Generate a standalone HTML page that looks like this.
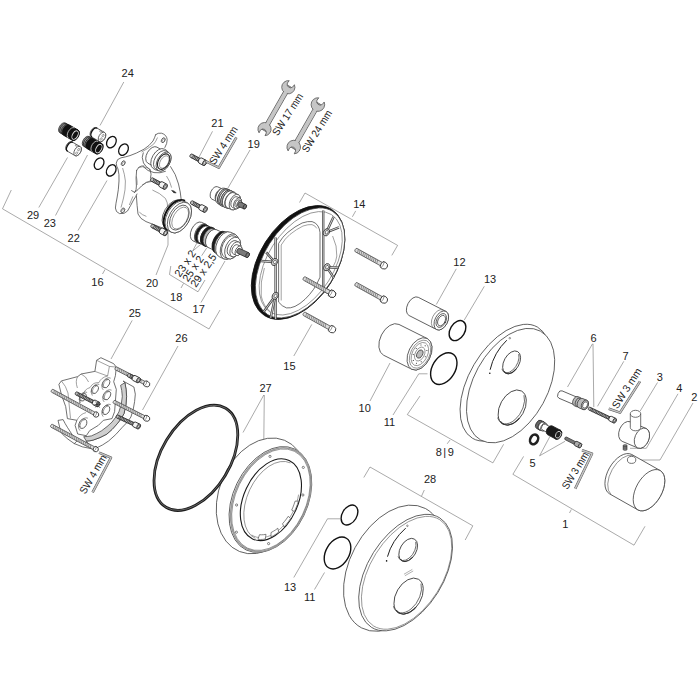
<!DOCTYPE html>
<html><head><meta charset="utf-8"><title>Exploded view</title>
<style>
html,body{margin:0;padding:0;background:#fff;}
body{width:700px;height:700px;overflow:hidden;}
svg{display:block;font-family:"Liberation Sans",sans-serif;}
</style></head><body>
<svg width="700" height="700" viewBox="0 0 700 700">
<rect width="700" height="700" fill="#fff"/>
<text x="121.6" y="77.2" font-size="11.0" text-anchor="start" fill="#222">24</text>
<text x="211.3" y="127.2" font-size="11.0" text-anchor="start" fill="#222">21</text>
<text x="247.60000000000002" y="148.2" font-size="11.0" text-anchor="start" fill="#222">19</text>
<text x="26.900000000000002" y="218.6" font-size="11.0" text-anchor="start" fill="#222">29</text>
<text x="43.699999999999996" y="226.6" font-size="11.0" text-anchor="start" fill="#222">23</text>
<text x="67.6" y="242.2" font-size="11.0" text-anchor="start" fill="#222">22</text>
<text x="91.3" y="285.8" font-size="11.0" text-anchor="start" fill="#222">16</text>
<text x="145.9" y="286.9" font-size="11.0" text-anchor="start" fill="#222">20</text>
<text x="170.10000000000002" y="300.6" font-size="11.0" text-anchor="start" fill="#222">18</text>
<text x="192.60000000000002" y="313.2" font-size="11.0" text-anchor="start" fill="#222">17</text>
<text x="353.2" y="208.3" font-size="11.0" text-anchor="start" fill="#222">14</text>
<text x="453.3" y="266.4" font-size="11.0" text-anchor="start" fill="#222">12</text>
<text x="483.90000000000003" y="283.2" font-size="11.0" text-anchor="start" fill="#222">13</text>
<text x="283.3" y="369.6" font-size="11.0" text-anchor="start" fill="#222">15</text>
<text x="128.70000000000002" y="316.8" font-size="11.0" text-anchor="start" fill="#222">25</text>
<text x="175.3" y="342.2" font-size="11.0" text-anchor="start" fill="#222">26</text>
<text x="259.5" y="391.8" font-size="11.0" text-anchor="start" fill="#222">27</text>
<text x="358.6" y="412.1" font-size="11.0" text-anchor="start" fill="#222">10</text>
<text x="383.8" y="426.4" font-size="11.0" text-anchor="start" fill="#222">11</text>
<text x="435.7" y="455.6" font-size="11.0" text-anchor="start" fill="#222" letter-spacing="1.5">8|9</text>
<text x="590.55" y="341.8" font-size="11.0" text-anchor="start" fill="#222">6</text>
<text x="622.55" y="360.2" font-size="11.0" text-anchor="start" fill="#222">7</text>
<text x="656.75" y="380.8" font-size="11.0" text-anchor="start" fill="#222">3</text>
<text x="676.35" y="392.2" font-size="11.0" text-anchor="start" fill="#222">4</text>
<text x="691.35" y="401.4" font-size="11.0" text-anchor="start" fill="#222">2</text>
<text x="529.55" y="466.8" font-size="11.0" text-anchor="start" fill="#222">5</text>
<text x="562.15" y="528.4" font-size="11.0" text-anchor="start" fill="#222">1</text>
<text x="423.90000000000003" y="482.6" font-size="11.0" text-anchor="start" fill="#222">28</text>
<text x="283.90000000000003" y="591.4" font-size="11.0" text-anchor="start" fill="#222">13</text>
<text x="303.90000000000003" y="601.4" font-size="11.0" text-anchor="start" fill="#222">11</text>
<text x="214.84" y="165.21" font-size="10.6" fill="#222" textLength="43.02" lengthAdjust="spacingAndGlyphs" transform="rotate(-57.25 214.84 165.21)">SW 4 mm</text>
<text x="277.77" y="136.47" font-size="10.6" fill="#222" textLength="47.77" lengthAdjust="spacingAndGlyphs" transform="rotate(-57.29 277.77 136.47)">SW 17 mm</text>
<text x="307.46" y="153.13" font-size="10.6" fill="#222" textLength="47.33" lengthAdjust="spacingAndGlyphs" transform="rotate(-58.13 307.46 153.13)">SW 24 mm</text>
<text x="180.05" y="277.65" font-size="10.8" fill="#222" textLength="29.29" lengthAdjust="spacingAndGlyphs" transform="rotate(-56.00 180.05 277.65)">23 x 2</text>
<text x="188.08" y="282.61" font-size="10.8" fill="#222" textLength="28.78" lengthAdjust="spacingAndGlyphs" transform="rotate(-56.00 188.08 282.61)">25 x 2</text>
<text x="196.08" y="288.11" font-size="10.8" fill="#222" textLength="37.64" lengthAdjust="spacingAndGlyphs" transform="rotate(-56.00 196.08 288.11)">29 x 2,5</text>
<text x="617.56" y="409.37" font-size="10.6" fill="#222" textLength="45.63" lengthAdjust="spacingAndGlyphs" transform="rotate(-57.50 617.56 409.37)">SW 3 mm</text>
<text x="567.51" y="490.08" font-size="10.6" fill="#222" textLength="41.38" lengthAdjust="spacingAndGlyphs" transform="rotate(-58.50 567.51 490.08)">SW 3 mm</text>
<text x="85.36" y="494.86" font-size="10.6" fill="#222" textLength="43.27" lengthAdjust="spacingAndGlyphs" transform="rotate(-60.00 85.36 494.86)">SW 4 mm</text>
<path d="M123.8,82 L100,125.5" fill="none" stroke="#707070" stroke-width="0.6"/>
<path d="M212.5,131.3 L198.8,157.5" fill="none" stroke="#707070" stroke-width="0.6"/>
<path d="M250,150 L227.5,188.8" fill="none" stroke="#707070" stroke-width="0.6"/>
<path d="M38.8,207.5 L67.5,157.5" fill="none" stroke="#707070" stroke-width="0.6"/>
<path d="M55.5,215.5 L87.5,155" fill="none" stroke="#707070" stroke-width="0.6"/>
<path d="M78,230.5 L107,180.5" fill="none" stroke="#707070" stroke-width="0.6"/>
<path d="M11.3,190 L2.5,208.8 L209,329 L220,310" fill="none" stroke="#707070" stroke-width="0.6"/>
<path d="M105,269.5 L102.5,274" fill="none" stroke="#707070" stroke-width="0.6"/>
<path d="M225,261 L201,302.5" fill="none" stroke="#707070" stroke-width="0.6"/>
<path d="M170.8,266 L169.5,274.5 L198,291.8 L205,280" fill="none" stroke="#707070" stroke-width="0.6"/>
<path d="M183.5,283.5 L181,288" fill="none" stroke="#707070" stroke-width="0.6"/>
<path d="M299.5,202.5 L305,193 L397.6,245.4 L391.8,255.4" fill="none" stroke="#707070" stroke-width="0.6"/>
<path d="M355.7,210.9 L352.4,216.8" fill="none" stroke="#707070" stroke-width="0.6"/>
<path d="M311.8,324.4 L293.8,356" fill="none" stroke="#707070" stroke-width="0.6"/>
<path d="M132.2,320.4 L111,359" fill="none" stroke="#707070" stroke-width="0.6"/>
<path d="M178,346 L142.5,410" fill="none" stroke="#707070" stroke-width="0.6"/>
<path d="M263.8,395 L243,432.5" fill="none" stroke="#707070" stroke-width="0.6"/>
<path d="M264.3,395 L263.8,440.5" fill="none" stroke="#707070" stroke-width="0.6"/>
<path d="M456.3,268.8 L436.3,304.5" fill="none" stroke="#707070" stroke-width="0.6"/>
<path d="M484.3,286.3 L464.3,320" fill="none" stroke="#707070" stroke-width="0.6"/>
<path d="M370,401 L390,363" fill="none" stroke="#707070" stroke-width="0.6"/>
<path d="M393,415 L418.8,373.8 L427.5,373.8" fill="none" stroke="#707070" stroke-width="0.6"/>
<path d="M420,396 L407.3,414.6 L492.9,462.9 L503.6,444.3" fill="none" stroke="#707070" stroke-width="0.6"/>
<path d="M450,440 L447.2,443.8" fill="none" stroke="#707070" stroke-width="0.6"/>
<path d="M592.5,343.8 L567.5,387" fill="none" stroke="#707070" stroke-width="0.6"/>
<path d="M593,343.8 L593.8,407" fill="none" stroke="#707070" stroke-width="0.6"/>
<path d="M623.8,361.3 L597.5,406.3" fill="none" stroke="#707070" stroke-width="0.6"/>
<path d="M657.5,382.5 L640,411.3" fill="none" stroke="#707070" stroke-width="0.6"/>
<path d="M678,393.8 L646.3,448.3 L630,448.3" fill="none" stroke="#707070" stroke-width="0.6"/>
<path d="M693,403 L660,460 L636.3,460" fill="none" stroke="#707070" stroke-width="0.6"/>
<path d="M539.6,455.8 L550,436.3" fill="none" stroke="#707070" stroke-width="0.6"/>
<path d="M539.6,455.8 L565,441.3" fill="none" stroke="#707070" stroke-width="0.6"/>
<path d="M523.6,456.4 L512.9,474.3 L634,545.2 L645,526.3" fill="none" stroke="#707070" stroke-width="0.6"/>
<path d="M571.3,509.5 L569.5,513" fill="none" stroke="#707070" stroke-width="0.6"/>
<path d="M363.8,477.5 L370,467 L472.8,525.8 L465.2,540" fill="none" stroke="#707070" stroke-width="0.6"/>
<path d="M424.3,490 L421.5,496.2" fill="none" stroke="#707070" stroke-width="0.6"/>
<path d="M293.8,577.5 L327.5,518.8 L340,518.8" fill="none" stroke="#707070" stroke-width="0.6"/>
<path d="M314.5,589.5 L324.5,572.5" fill="none" stroke="#707070" stroke-width="0.6"/>
<path d="M156,275 L168,245 L168,232.5" fill="none" stroke="#707070" stroke-width="0.6"/>
<ellipse cx="111.4" cy="142.1" rx="4.4" ry="6.1" transform="rotate(30 111.4 142.1)" fill="none" stroke="#111" stroke-width="1.3"/>
<ellipse cx="123.5" cy="149.6" rx="4.4" ry="6.1" transform="rotate(30 123.5 149.6)" fill="none" stroke="#111" stroke-width="1.3"/>
<ellipse cx="99.1" cy="163.7" rx="4.4" ry="6.1" transform="rotate(30 99.1 163.7)" fill="none" stroke="#111" stroke-width="1.3"/>
<ellipse cx="111.2" cy="170.4" rx="4.4" ry="6.1" transform="rotate(30 111.2 170.4)" fill="none" stroke="#111" stroke-width="1.3"/>
<ellipse cx="457.5" cy="330.6" rx="7.3" ry="10.8" transform="rotate(31 457.5 330.6)" fill="none" stroke="#111" stroke-width="1.4"/>
<ellipse cx="443.8" cy="368.6" rx="11.4" ry="17.2" transform="rotate(31 443.8 368.6)" fill="none" stroke="#111" stroke-width="1.4"/>
<ellipse cx="349.5" cy="515" rx="7.3" ry="10.8" transform="rotate(31 349.5 515)" fill="none" stroke="#111" stroke-width="1.4"/>
<ellipse cx="337.5" cy="553" rx="11.6" ry="17.2" transform="rotate(31 337.5 553)" fill="none" stroke="#111" stroke-width="1.4"/>
<g transform="translate(75.1 135.1) rotate(30)" >
<path d="M-14.4,-5.6 L-10,-5.6 A3.36,5.6 0 0 1 -10,5.6 L-14.4,5.6 A3.36,5.6 0 0 1 -14.4,-5.6 Z" fill="#9a9a9a" stroke="#222" stroke-width="0.7"/>
<path d="M-13,-5.6 A3.4,5.6 0 0 0 -13,5.6" fill="none" stroke="#222" stroke-width="0.8"/>
<path d="M-11.4,-5.6 A3.4,5.6 0 0 0 -11.4,5.6" fill="none" stroke="#222" stroke-width="0.8"/>
<path d="M-10,-5.9 L0,-5.9 A3.54,5.9 0 0 1 0,5.9 L-10,5.9 A3.54,5.9 0 0 1 -10,-5.9 Z" fill="#111" stroke="#111" stroke-width="0.8"/>
<path d="M-4.2,-5.9 A3.5,5.9 0 0 0 -4.2,5.9" fill="none" stroke="#ddd" stroke-width="0.7"/>
<ellipse cx="0" cy="0" rx="3.5" ry="5.9" fill="#111" stroke="#111" stroke-width="0.8"/>
<ellipse cx="0" cy="0" rx="2.6" ry="4.6" fill="#111" stroke="#ddd" stroke-width="0.9"/>
</g>
<g transform="translate(77.6 151.1) rotate(30)" >
<path d="M-9.5,-5.2 L0,-5.2 A3.12,5.2 0 0 1 0,5.2 L-9.5,5.2 A3.12,5.2 0 0 1 -9.5,-5.2 Z" fill="#fff" stroke="#424242" stroke-width="0.75" stroke-linejoin="round"/>
<path d="M-8.5,-5.2 A3.1,5.2 0 0 0 -8.5,5.2" fill="none" stroke="#111" stroke-width="1.4"/>
<ellipse cx="0" cy="0" rx="3.1" ry="5.2" fill="#fff" stroke="#424242" stroke-width="0.75" stroke-linejoin="round"/>
<ellipse cx="0.2" cy="-1.8" rx="0.9" ry="1.3" fill="none" stroke="#626262" stroke-width="0.6"/>
<ellipse cx="0.2" cy="2.2" rx="0.9" ry="1.3" fill="none" stroke="#626262" stroke-width="0.6"/>
<ellipse cx="-4" cy="-4.2" rx="1.0" ry="0.7" fill="none" stroke="#626262" stroke-width="0.6"/>
</g>
<g transform="translate(102 137) rotate(30)" >
<path d="M-9.5,-5.2 L0,-5.2 A3.12,5.2 0 0 1 0,5.2 L-9.5,5.2 A3.12,5.2 0 0 1 -9.5,-5.2 Z" fill="#fff" stroke="#424242" stroke-width="0.75" stroke-linejoin="round"/>
<path d="M-8.5,-5.2 A3.1,5.2 0 0 0 -8.5,5.2" fill="none" stroke="#111" stroke-width="1.4"/>
<ellipse cx="0" cy="0" rx="3.1" ry="5.2" fill="#fff" stroke="#424242" stroke-width="0.75" stroke-linejoin="round"/>
<ellipse cx="0.2" cy="-1.8" rx="0.9" ry="1.3" fill="none" stroke="#626262" stroke-width="0.6"/>
<ellipse cx="0.2" cy="2.2" rx="0.9" ry="1.3" fill="none" stroke="#626262" stroke-width="0.6"/>
<ellipse cx="-4" cy="-4.2" rx="1.0" ry="0.7" fill="none" stroke="#626262" stroke-width="0.6"/>
</g>
<g transform="translate(98.8 148.6) rotate(30)" >
<path d="M-14.4,-5.6 L-10,-5.6 A3.36,5.6 0 0 1 -10,5.6 L-14.4,5.6 A3.36,5.6 0 0 1 -14.4,-5.6 Z" fill="#9a9a9a" stroke="#222" stroke-width="0.7"/>
<path d="M-13,-5.6 A3.4,5.6 0 0 0 -13,5.6" fill="none" stroke="#222" stroke-width="0.8"/>
<path d="M-11.4,-5.6 A3.4,5.6 0 0 0 -11.4,5.6" fill="none" stroke="#222" stroke-width="0.8"/>
<path d="M-10,-5.9 L0,-5.9 A3.54,5.9 0 0 1 0,5.9 L-10,5.9 A3.54,5.9 0 0 1 -10,-5.9 Z" fill="#111" stroke="#111" stroke-width="0.8"/>
<path d="M-4.2,-5.9 A3.5,5.9 0 0 0 -4.2,5.9" fill="none" stroke="#ddd" stroke-width="0.7"/>
<ellipse cx="0" cy="0" rx="3.5" ry="5.9" fill="#111" stroke="#111" stroke-width="0.8"/>
<ellipse cx="0" cy="0" rx="2.6" ry="4.6" fill="#111" stroke="#ddd" stroke-width="0.9"/>
</g>
<path d="M155.7,134.6 Q158,132.6 161.5,133.2 Q166.5,134.6 167.2,139.5 Q167.3,143.5 164.9,147.5 M155.7,134.6 Q154.6,138 153,141 Q149.5,145.8 144,149.2 Q136,153.6 130,155.6 Q125,157.2 121,157.8 Q116.6,158.8 116.2,163.2 Q116.4,166.4 118,169 Q119.4,174 119,181 Q118.6,190 117,198 Q115.8,203.5 115.4,208 Q115.6,212.2 119.5,213.6 Q124.5,214.4 127.5,211 Q131,205 133.5,200 Q136,196.5 137,194" fill="none" stroke="#424242" stroke-width="0.75" stroke-linejoin="round" stroke-linecap="round"/>
<path d="M122.6,168 Q124.6,174 125.4,181 Q125.6,190 123.5,198 Q122,204 121,207.5" fill="none" stroke="#626262" stroke-width="0.6"/>
<path d="M157.5,137.5 Q156,141.5 153.6,144.2 Q148,148.8 141.5,152" fill="none" stroke="#626262" stroke-width="0.6"/>
<ellipse cx="163.2" cy="140.2" rx="1.7" ry="2.6" transform="rotate(30 163.2 140.2)" fill="#fff" stroke="#424242" stroke-width="0.75" stroke-linejoin="round"/>
<ellipse cx="163.6" cy="140.39999999999998" rx="1.1" ry="2.0" transform="rotate(30 163.2 140.2)" fill="none" stroke="#626262" stroke-width="0.6"/>
<ellipse cx="123.2" cy="163.2" rx="1.7" ry="2.6" transform="rotate(30 123.2 163.2)" fill="#fff" stroke="#424242" stroke-width="0.75" stroke-linejoin="round"/>
<ellipse cx="123.60000000000001" cy="163.39999999999998" rx="1.1" ry="2.0" transform="rotate(30 123.2 163.2)" fill="none" stroke="#626262" stroke-width="0.6"/>
<ellipse cx="122.8" cy="210.4" rx="1.7" ry="2.6" transform="rotate(30 122.8 210.4)" fill="#fff" stroke="#424242" stroke-width="0.75" stroke-linejoin="round"/>
<ellipse cx="123.2" cy="210.6" rx="1.1" ry="2.0" transform="rotate(30 122.8 210.4)" fill="none" stroke="#626262" stroke-width="0.6"/>
<path d="M143.2,152.8 Q141,157 143.5,163 Q146,167.5 150,169.5 M136.6,170.5 Q139,165 144,166 M136.6,170.5 Q135.6,178 136.4,186 Q136.6,190 134.6,192.4 L131.6,190.6 M134.6,192.4 Q138.5,189.6 141.5,186 Q146,181 151.5,181.4 M136.4,196 Q137,206 138,214 Q140,219 146,221.6 L165,229 M170.6,166.6 Q176,174 178.5,184 Q180.6,192 181.2,199.5 M150,169.5 Q152,174.5 150.6,178 M143.6,167 Q147.5,171.4 154,172.6 Q160,173.6 165.4,171.4" fill="none" stroke="#424242" stroke-width="0.75" stroke-linejoin="round" stroke-linecap="round"/>
<path d="M137.9,167.9 Q142,165.6 147.9,167.9 Q150.6,170 150.7,172.1 M136.4,176.4 Q137.4,181 137.1,185 M142.1,185 Q146,182.4 150.7,180.7 M139.3,212.1 Q142,215 146.4,216.4 M166.5,176 Q170,181 171.6,187.6 M129.3,205 Q131.4,200 132.9,196.4 M152.4,190 Q160,193 165.4,198.4 Q168,203 167.6,207" fill="none" stroke="#626262" stroke-width="0.6"/>
<path d="M171.6,190.4 Q174.6,190.2 176.2,193 Q173.6,193.6 171.6,190.4 Z" fill="#333" stroke="#333" stroke-width="0.6"/>
<g transform="translate(163.6 161.6) rotate(30)" >
<path d="M-13,-9.2 L-5.5,-9.2 A5.52,9.2 0 0 1 -5.5,9.2 L-13,9.2 A5.52,9.2 0 0 1 -13,-9.2 Z" fill="#fff" stroke="#424242" stroke-width="0.75" stroke-linejoin="round"/>
<path d="M-5.5,-11.2 L-3,-11.2 A6.72,11.2 0 0 1 -3,11.2 L-5.5,11.2 A6.72,11.2 0 0 1 -5.5,-11.2 Z" fill="#fff" stroke="#424242" stroke-width="0.75" stroke-linejoin="round"/>
<path d="M-3,-10.4 L0,-10.4 A6.24,10.4 0 0 1 0,10.4 L-3,10.4 A6.24,10.4 0 0 1 -3,-10.4 Z" fill="#fff" stroke="#424242" stroke-width="0.75" stroke-linejoin="round"/>
<ellipse cx="0" cy="0" rx="6.24" ry="10.4" fill="#fff" stroke="#424242" stroke-width="0.75" stroke-linejoin="round"/>
<ellipse cx="0" cy="0" rx="5.2" ry="8.4" fill="#fff" stroke="#222" stroke-width="1.1"/>
<ellipse cx="0.8" cy="0" rx="4.0" ry="6.8" fill="none" stroke="#626262" stroke-width="0.6"/>
</g>
<g transform="translate(179.4 217.6) rotate(30)" >
<path d="M-7,-15.6 L-3.6,-15.6 A9.36,15.6 0 0 1 -3.6,15.6 L-7,15.6 A9.36,15.6 0 0 1 -7,-15.6 Z" fill="#fff" stroke="#424242" stroke-width="0.75" stroke-linejoin="round"/>
<path d="M-3.5,-17.2 A10.8,17.2 0 0 0 -3.5,17.2" fill="none" stroke="#111" stroke-width="2.0"/>
<path d="M-2.6,-16.8 L0,-16.8 A10.08,16.8 0 0 1 0,16.8 L-2.6,16.8 A10.08,16.8 0 0 1 -2.6,-16.8 Z" fill="#fff" stroke="#424242" stroke-width="0.75" stroke-linejoin="round"/>
<ellipse cx="0" cy="0" rx="10.08" ry="16.8" fill="#fff" stroke="#424242" stroke-width="0.75" stroke-linejoin="round"/>
<ellipse cx="0" cy="0" rx="8.2" ry="13.6" fill="none" stroke="#424242" stroke-width="0.75" stroke-linejoin="round" stroke-linecap="round"/>
<ellipse cx="0.9" cy="0" rx="6.8" ry="12" fill="none" stroke="#626262" stroke-width="0.6"/>
</g>
<g transform="translate(204.6 162.8) rotate(28)" >
<path d="M-15.3,-1.8 L-4.8,-1.8 A1.08,1.8 0 0 1 -4.8,1.8 L-15.3,1.8 A1.08,1.8 0 0 1 -15.3,-1.8 Z" fill="#bdbdbd" stroke="#2a2a2a" stroke-width="0.7"/>
<path d="M-14.1,-1.8 A0.9,1.8 0 0 1 -14.1,1.8" fill="none" stroke="#222" stroke-width="0.7"/>
<path d="M-12.5,-1.8 A0.9,1.8 0 0 1 -12.5,1.8" fill="none" stroke="#222" stroke-width="0.7"/>
<path d="M-10.9,-1.8 A0.9,1.8 0 0 1 -10.9,1.8" fill="none" stroke="#222" stroke-width="0.7"/>
<path d="M-9.3,-1.8 A0.9,1.8 0 0 1 -9.3,1.8" fill="none" stroke="#222" stroke-width="0.7"/>
<path d="M-7.7,-1.8 A0.9,1.8 0 0 1 -7.7,1.8" fill="none" stroke="#222" stroke-width="0.7"/>
<path d="M-6.1,-1.8 A0.9,1.8 0 0 1 -6.1,1.8" fill="none" stroke="#222" stroke-width="0.7"/>
<path d="M-4.8,-2.9 L0,-2.9 A1.74,2.9 0 0 1 0,2.9 L-4.8,2.9 A1.74,2.9 0 0 1 -4.8,-2.9 Z" fill="#f4f4f4" stroke="#222" stroke-width="0.8"/>
<ellipse cx="0" cy="0" rx="1.74" ry="2.9" fill="#f4f4f4" stroke="#222" stroke-width="0.8"/>
<ellipse cx="0" cy="0" rx="1.044" ry="1.74" fill="#ddd" stroke="#333" stroke-width="0.6"/>
</g>
<g transform="translate(165.2 186.6) rotate(28)" >
<path d="M-15.3,-1.8 L-4.8,-1.8 A1.08,1.8 0 0 1 -4.8,1.8 L-15.3,1.8 A1.08,1.8 0 0 1 -15.3,-1.8 Z" fill="#bdbdbd" stroke="#2a2a2a" stroke-width="0.7"/>
<path d="M-14.1,-1.8 A0.9,1.8 0 0 1 -14.1,1.8" fill="none" stroke="#222" stroke-width="0.7"/>
<path d="M-12.5,-1.8 A0.9,1.8 0 0 1 -12.5,1.8" fill="none" stroke="#222" stroke-width="0.7"/>
<path d="M-10.9,-1.8 A0.9,1.8 0 0 1 -10.9,1.8" fill="none" stroke="#222" stroke-width="0.7"/>
<path d="M-9.3,-1.8 A0.9,1.8 0 0 1 -9.3,1.8" fill="none" stroke="#222" stroke-width="0.7"/>
<path d="M-7.7,-1.8 A0.9,1.8 0 0 1 -7.7,1.8" fill="none" stroke="#222" stroke-width="0.7"/>
<path d="M-6.1,-1.8 A0.9,1.8 0 0 1 -6.1,1.8" fill="none" stroke="#222" stroke-width="0.7"/>
<path d="M-4.8,-2.9 L0,-2.9 A1.74,2.9 0 0 1 0,2.9 L-4.8,2.9 A1.74,2.9 0 0 1 -4.8,-2.9 Z" fill="#f4f4f4" stroke="#222" stroke-width="0.8"/>
<ellipse cx="0" cy="0" rx="1.74" ry="2.9" fill="#f4f4f4" stroke="#222" stroke-width="0.8"/>
<ellipse cx="0" cy="0" rx="1.044" ry="1.74" fill="#ddd" stroke="#333" stroke-width="0.6"/>
</g>
<g transform="translate(205.2 209.6) rotate(28)" >
<path d="M-15.3,-1.8 L-4.8,-1.8 A1.08,1.8 0 0 1 -4.8,1.8 L-15.3,1.8 A1.08,1.8 0 0 1 -15.3,-1.8 Z" fill="#bdbdbd" stroke="#2a2a2a" stroke-width="0.7"/>
<path d="M-14.1,-1.8 A0.9,1.8 0 0 1 -14.1,1.8" fill="none" stroke="#222" stroke-width="0.7"/>
<path d="M-12.5,-1.8 A0.9,1.8 0 0 1 -12.5,1.8" fill="none" stroke="#222" stroke-width="0.7"/>
<path d="M-10.9,-1.8 A0.9,1.8 0 0 1 -10.9,1.8" fill="none" stroke="#222" stroke-width="0.7"/>
<path d="M-9.3,-1.8 A0.9,1.8 0 0 1 -9.3,1.8" fill="none" stroke="#222" stroke-width="0.7"/>
<path d="M-7.7,-1.8 A0.9,1.8 0 0 1 -7.7,1.8" fill="none" stroke="#222" stroke-width="0.7"/>
<path d="M-6.1,-1.8 A0.9,1.8 0 0 1 -6.1,1.8" fill="none" stroke="#222" stroke-width="0.7"/>
<path d="M-4.8,-2.9 L0,-2.9 A1.74,2.9 0 0 1 0,2.9 L-4.8,2.9 A1.74,2.9 0 0 1 -4.8,-2.9 Z" fill="#f4f4f4" stroke="#222" stroke-width="0.8"/>
<ellipse cx="0" cy="0" rx="1.74" ry="2.9" fill="#f4f4f4" stroke="#222" stroke-width="0.8"/>
<ellipse cx="0" cy="0" rx="1.044" ry="1.74" fill="#ddd" stroke="#333" stroke-width="0.6"/>
</g>
<g transform="translate(165.6 233) rotate(28)" >
<path d="M-15.3,-1.8 L-4.8,-1.8 A1.08,1.8 0 0 1 -4.8,1.8 L-15.3,1.8 A1.08,1.8 0 0 1 -15.3,-1.8 Z" fill="#bdbdbd" stroke="#2a2a2a" stroke-width="0.7"/>
<path d="M-14.1,-1.8 A0.9,1.8 0 0 1 -14.1,1.8" fill="none" stroke="#222" stroke-width="0.7"/>
<path d="M-12.5,-1.8 A0.9,1.8 0 0 1 -12.5,1.8" fill="none" stroke="#222" stroke-width="0.7"/>
<path d="M-10.9,-1.8 A0.9,1.8 0 0 1 -10.9,1.8" fill="none" stroke="#222" stroke-width="0.7"/>
<path d="M-9.3,-1.8 A0.9,1.8 0 0 1 -9.3,1.8" fill="none" stroke="#222" stroke-width="0.7"/>
<path d="M-7.7,-1.8 A0.9,1.8 0 0 1 -7.7,1.8" fill="none" stroke="#222" stroke-width="0.7"/>
<path d="M-6.1,-1.8 A0.9,1.8 0 0 1 -6.1,1.8" fill="none" stroke="#222" stroke-width="0.7"/>
<path d="M-4.8,-2.9 L0,-2.9 A1.74,2.9 0 0 1 0,2.9 L-4.8,2.9 A1.74,2.9 0 0 1 -4.8,-2.9 Z" fill="#f4f4f4" stroke="#222" stroke-width="0.8"/>
<ellipse cx="0" cy="0" rx="1.74" ry="2.9" fill="#f4f4f4" stroke="#222" stroke-width="0.8"/>
<ellipse cx="0" cy="0" rx="1.044" ry="1.74" fill="#ddd" stroke="#333" stroke-width="0.6"/>
</g>
<g transform="translate(386.6 267) rotate(29)" >
<path d="M-34.8,-1.9 L-4.8,-1.9 A1.14,1.9 0 0 1 -4.8,1.9 L-34.8,1.9 A1.14,1.9 0 0 1 -34.8,-1.9 Z" fill="#dcdcdc" stroke="#3a3a3a" stroke-width="0.65"/>
<path d="M-33.3,-1.9 L-32.2,1.9" fill="none" stroke="#5a5a5a" stroke-width="0.55"/>
<path d="M-31.3,-1.9 L-30.2,1.9" fill="none" stroke="#5a5a5a" stroke-width="0.55"/>
<path d="M-29.3,-1.9 L-28.2,1.9" fill="none" stroke="#5a5a5a" stroke-width="0.55"/>
<path d="M-27.3,-1.9 L-26.2,1.9" fill="none" stroke="#5a5a5a" stroke-width="0.55"/>
<path d="M-25.3,-1.9 L-24.2,1.9" fill="none" stroke="#5a5a5a" stroke-width="0.55"/>
<path d="M-23.3,-1.9 L-22.2,1.9" fill="none" stroke="#5a5a5a" stroke-width="0.55"/>
<path d="M-21.3,-1.9 L-20.2,1.9" fill="none" stroke="#5a5a5a" stroke-width="0.55"/>
<path d="M-19.3,-1.9 L-18.2,1.9" fill="none" stroke="#5a5a5a" stroke-width="0.55"/>
<path d="M-17.3,-1.9 L-16.2,1.9" fill="none" stroke="#5a5a5a" stroke-width="0.55"/>
<path d="M-15.3,-1.9 L-14.2,1.9" fill="none" stroke="#5a5a5a" stroke-width="0.55"/>
<path d="M-13.3,-1.9 L-12.2,1.9" fill="none" stroke="#5a5a5a" stroke-width="0.55"/>
<path d="M-11.3,-1.9 L-10.2,1.9" fill="none" stroke="#5a5a5a" stroke-width="0.55"/>
<path d="M-5.8,-3.0 Q-2.9,-4.4 -0.3,-2.48 Q1.7,0 -0.3,2.48 Q-2.9,4.4 -5.8,3.0 Q-7.0,0 -5.8,-3.0 Z" fill="#fff" stroke="#2a2a2a" stroke-width="0.8"/>
<path d="M-4.6,-3.6 Q-3.1999999999999997,0 -4.6,3.6" fill="none" stroke="#626262" stroke-width="0.6"/>
</g>
<g transform="translate(386.6 301.2) rotate(29)" >
<path d="M-34.8,-1.9 L-4.8,-1.9 A1.14,1.9 0 0 1 -4.8,1.9 L-34.8,1.9 A1.14,1.9 0 0 1 -34.8,-1.9 Z" fill="#dcdcdc" stroke="#3a3a3a" stroke-width="0.65"/>
<path d="M-33.3,-1.9 L-32.2,1.9" fill="none" stroke="#5a5a5a" stroke-width="0.55"/>
<path d="M-31.3,-1.9 L-30.2,1.9" fill="none" stroke="#5a5a5a" stroke-width="0.55"/>
<path d="M-29.3,-1.9 L-28.2,1.9" fill="none" stroke="#5a5a5a" stroke-width="0.55"/>
<path d="M-27.3,-1.9 L-26.2,1.9" fill="none" stroke="#5a5a5a" stroke-width="0.55"/>
<path d="M-25.3,-1.9 L-24.2,1.9" fill="none" stroke="#5a5a5a" stroke-width="0.55"/>
<path d="M-23.3,-1.9 L-22.2,1.9" fill="none" stroke="#5a5a5a" stroke-width="0.55"/>
<path d="M-21.3,-1.9 L-20.2,1.9" fill="none" stroke="#5a5a5a" stroke-width="0.55"/>
<path d="M-19.3,-1.9 L-18.2,1.9" fill="none" stroke="#5a5a5a" stroke-width="0.55"/>
<path d="M-17.3,-1.9 L-16.2,1.9" fill="none" stroke="#5a5a5a" stroke-width="0.55"/>
<path d="M-15.3,-1.9 L-14.2,1.9" fill="none" stroke="#5a5a5a" stroke-width="0.55"/>
<path d="M-13.3,-1.9 L-12.2,1.9" fill="none" stroke="#5a5a5a" stroke-width="0.55"/>
<path d="M-11.3,-1.9 L-10.2,1.9" fill="none" stroke="#5a5a5a" stroke-width="0.55"/>
<path d="M-5.8,-3.0 Q-2.9,-4.4 -0.3,-2.48 Q1.7,0 -0.3,2.48 Q-2.9,4.4 -5.8,3.0 Q-7.0,0 -5.8,-3.0 Z" fill="#fff" stroke="#2a2a2a" stroke-width="0.8"/>
<path d="M-4.6,-3.6 Q-3.1999999999999997,0 -4.6,3.6" fill="none" stroke="#626262" stroke-width="0.6"/>
</g>
<g transform="translate(334.8 295.4) rotate(29)" >
<path d="M-34.8,-1.9 L-4.8,-1.9 A1.14,1.9 0 0 1 -4.8,1.9 L-34.8,1.9 A1.14,1.9 0 0 1 -34.8,-1.9 Z" fill="#dcdcdc" stroke="#3a3a3a" stroke-width="0.65"/>
<path d="M-33.3,-1.9 L-32.2,1.9" fill="none" stroke="#5a5a5a" stroke-width="0.55"/>
<path d="M-31.3,-1.9 L-30.2,1.9" fill="none" stroke="#5a5a5a" stroke-width="0.55"/>
<path d="M-29.3,-1.9 L-28.2,1.9" fill="none" stroke="#5a5a5a" stroke-width="0.55"/>
<path d="M-27.3,-1.9 L-26.2,1.9" fill="none" stroke="#5a5a5a" stroke-width="0.55"/>
<path d="M-25.3,-1.9 L-24.2,1.9" fill="none" stroke="#5a5a5a" stroke-width="0.55"/>
<path d="M-23.3,-1.9 L-22.2,1.9" fill="none" stroke="#5a5a5a" stroke-width="0.55"/>
<path d="M-21.3,-1.9 L-20.2,1.9" fill="none" stroke="#5a5a5a" stroke-width="0.55"/>
<path d="M-19.3,-1.9 L-18.2,1.9" fill="none" stroke="#5a5a5a" stroke-width="0.55"/>
<path d="M-17.3,-1.9 L-16.2,1.9" fill="none" stroke="#5a5a5a" stroke-width="0.55"/>
<path d="M-15.3,-1.9 L-14.2,1.9" fill="none" stroke="#5a5a5a" stroke-width="0.55"/>
<path d="M-13.3,-1.9 L-12.2,1.9" fill="none" stroke="#5a5a5a" stroke-width="0.55"/>
<path d="M-11.3,-1.9 L-10.2,1.9" fill="none" stroke="#5a5a5a" stroke-width="0.55"/>
<path d="M-5.8,-3.0 Q-2.9,-4.4 -0.3,-2.48 Q1.7,0 -0.3,2.48 Q-2.9,4.4 -5.8,3.0 Q-7.0,0 -5.8,-3.0 Z" fill="#fff" stroke="#2a2a2a" stroke-width="0.8"/>
<path d="M-4.6,-3.6 Q-3.1999999999999997,0 -4.6,3.6" fill="none" stroke="#626262" stroke-width="0.6"/>
</g>
<g transform="translate(334.8 330.8) rotate(29)" >
<path d="M-34.8,-1.9 L-4.8,-1.9 A1.14,1.9 0 0 1 -4.8,1.9 L-34.8,1.9 A1.14,1.9 0 0 1 -34.8,-1.9 Z" fill="#dcdcdc" stroke="#3a3a3a" stroke-width="0.65"/>
<path d="M-33.3,-1.9 L-32.2,1.9" fill="none" stroke="#5a5a5a" stroke-width="0.55"/>
<path d="M-31.3,-1.9 L-30.2,1.9" fill="none" stroke="#5a5a5a" stroke-width="0.55"/>
<path d="M-29.3,-1.9 L-28.2,1.9" fill="none" stroke="#5a5a5a" stroke-width="0.55"/>
<path d="M-27.3,-1.9 L-26.2,1.9" fill="none" stroke="#5a5a5a" stroke-width="0.55"/>
<path d="M-25.3,-1.9 L-24.2,1.9" fill="none" stroke="#5a5a5a" stroke-width="0.55"/>
<path d="M-23.3,-1.9 L-22.2,1.9" fill="none" stroke="#5a5a5a" stroke-width="0.55"/>
<path d="M-21.3,-1.9 L-20.2,1.9" fill="none" stroke="#5a5a5a" stroke-width="0.55"/>
<path d="M-19.3,-1.9 L-18.2,1.9" fill="none" stroke="#5a5a5a" stroke-width="0.55"/>
<path d="M-17.3,-1.9 L-16.2,1.9" fill="none" stroke="#5a5a5a" stroke-width="0.55"/>
<path d="M-15.3,-1.9 L-14.2,1.9" fill="none" stroke="#5a5a5a" stroke-width="0.55"/>
<path d="M-13.3,-1.9 L-12.2,1.9" fill="none" stroke="#5a5a5a" stroke-width="0.55"/>
<path d="M-11.3,-1.9 L-10.2,1.9" fill="none" stroke="#5a5a5a" stroke-width="0.55"/>
<path d="M-5.8,-3.0 Q-2.9,-4.4 -0.3,-2.48 Q1.7,0 -0.3,2.48 Q-2.9,4.4 -5.8,3.0 Q-7.0,0 -5.8,-3.0 Z" fill="#fff" stroke="#2a2a2a" stroke-width="0.8"/>
<path d="M-4.6,-3.6 Q-3.1999999999999997,0 -4.6,3.6" fill="none" stroke="#626262" stroke-width="0.6"/>
</g>
<g transform="translate(197.3 231.6) rotate(25)" >
<path d="M0,-10.2 L4.5,-10.2 A6.119999999999999,10.2 0 0 1 4.5,10.2 L0,10.2 A6.119999999999999,10.2 0 0 1 0,-10.2 Z" fill="#fff" stroke="#424242" stroke-width="0.75" stroke-linejoin="round"/>
<ellipse cx="4.5" cy="0" rx="6.119999999999999" ry="10.2" fill="#fff" stroke="#424242" stroke-width="0.75" stroke-linejoin="round"/>
<path d="M5,-9.8 L7.2,-9.8 A5.88,9.8 0 0 1 7.2,9.8 L5,9.8 A5.88,9.8 0 0 1 5,-9.8 Z" fill="#1a1a1a" stroke="#1a1a1a" stroke-width="0.7"/>
<ellipse cx="7.2" cy="0" rx="5.88" ry="9.8" fill="#1a1a1a" stroke="#1a1a1a" stroke-width="0.7"/>
<path d="M7.2,-9.2 L10.5,-9.2 A5.52,9.2 0 0 1 10.5,9.2 L7.2,9.2 A5.52,9.2 0 0 1 7.2,-9.2 Z" fill="#fff" stroke="#424242" stroke-width="0.75" stroke-linejoin="round"/>
<ellipse cx="10.5" cy="0" rx="5.52" ry="9.2" fill="#fff" stroke="#424242" stroke-width="0.75" stroke-linejoin="round"/>
<path d="M11,-10 L13.4,-10 A6.0,10 0 0 1 13.4,10 L11,10 A6.0,10 0 0 1 11,-10 Z" fill="#1a1a1a" stroke="#1a1a1a" stroke-width="0.7"/>
<ellipse cx="13.4" cy="0" rx="6.0" ry="10" fill="#1a1a1a" stroke="#1a1a1a" stroke-width="0.7"/>
<path d="M13.4,-9.4 L16.5,-9.4 A5.64,9.4 0 0 1 16.5,9.4 L13.4,9.4 A5.64,9.4 0 0 1 13.4,-9.4 Z" fill="#bbb" stroke="#333" stroke-width="0.7"/>
<ellipse cx="16.5" cy="0" rx="5.64" ry="9.4" fill="#bbb" stroke="#333" stroke-width="0.7"/>
<path d="M16.5,-9.8 L24.5,-9.8 A5.88,9.8 0 0 1 24.5,9.8 L16.5,9.8 A5.88,9.8 0 0 1 16.5,-9.8 Z" fill="#fff" stroke="#424242" stroke-width="0.75" stroke-linejoin="round"/>
<ellipse cx="24.5" cy="0" rx="5.88" ry="9.8" fill="#fff" stroke="#424242" stroke-width="0.75" stroke-linejoin="round"/>
<path d="M25,-11.6 L28.6,-11.6 A6.96,11.6 0 0 1 28.6,11.6 L25,11.6 A6.96,11.6 0 0 1 25,-11.6 Z" fill="#1a1a1a" stroke="#1a1a1a" stroke-width="0.7"/>
<ellipse cx="28.6" cy="0" rx="6.96" ry="11.6" fill="#1a1a1a" stroke="#1a1a1a" stroke-width="0.7"/>
<path d="M28.6,-12.8 L30.5,-12.8 A7.68,12.8 0 0 1 30.5,12.8 L28.6,12.8 A7.68,12.8 0 0 1 28.6,-12.8 Z" fill="#fff" stroke="#424242" stroke-width="0.75" stroke-linejoin="round"/>
<ellipse cx="30.5" cy="0" rx="7.68" ry="12.8" fill="#fff" stroke="#424242" stroke-width="0.75" stroke-linejoin="round"/>
<path d="M30.5,-13.5 L35.5,-13.5 A8.1,13.5 0 0 1 35.5,13.5 L30.5,13.5 A8.1,13.5 0 0 1 30.5,-13.5 Z" fill="#fff" stroke="#424242" stroke-width="0.75" stroke-linejoin="round"/>
<ellipse cx="35.5" cy="0" rx="8.1" ry="13.5" fill="#fff" stroke="#424242" stroke-width="0.75" stroke-linejoin="round"/>
<path d="M35.5,-11.6 L39,-11.6 A6.96,11.6 0 0 1 39,11.6 L35.5,11.6 A6.96,11.6 0 0 1 35.5,-11.6 Z" fill="#fff" stroke="#424242" stroke-width="0.75" stroke-linejoin="round"/>
<ellipse cx="39" cy="0" rx="6.96" ry="11.6" fill="#fff" stroke="#424242" stroke-width="0.75" stroke-linejoin="round"/>
<path d="M39,-8.0 L42,-8.0 A4.8,8.0 0 0 1 42,8.0 L39,8.0 A4.8,8.0 0 0 1 39,-8.0 Z" fill="#fff" stroke="#424242" stroke-width="0.75" stroke-linejoin="round"/>
<ellipse cx="42" cy="0" rx="4.8" ry="8.0" fill="#fff" stroke="#424242" stroke-width="0.75" stroke-linejoin="round"/>
<path d="M42,-5.0 L45.5,-5.0 A3.0,5.0 0 0 1 45.5,5.0 L42,5.0 A3.0,5.0 0 0 1 42,-5.0 Z" fill="#fff" stroke="#424242" stroke-width="0.75" stroke-linejoin="round"/>
<ellipse cx="45.5" cy="0" rx="3.0" ry="5.0" fill="#fff" stroke="#424242" stroke-width="0.75" stroke-linejoin="round"/>
<path d="M45.5,-2.6 L55.5,-2.6 A1.56,2.6 0 0 1 55.5,2.6 L45.5,2.6 A1.56,2.6 0 0 1 45.5,-2.6 Z" fill="#7a7a7a" stroke="#222" stroke-width="0.7"/>
<ellipse cx="55.5" cy="0" rx="1.56" ry="2.6" fill="#7a7a7a" stroke="#222" stroke-width="0.7"/>
</g>
<g transform="translate(214.8 193) rotate(24.5)" >
<path d="M0,-6.8 L5.5,-6.8 A4.08,6.8 0 0 1 5.5,6.8 L0,6.8 A4.08,6.8 0 0 1 0,-6.8 Z" fill="#fff" stroke="#424242" stroke-width="0.75" stroke-linejoin="round"/>
<ellipse cx="5.5" cy="0" rx="4.08" ry="6.8" fill="#fff" stroke="#424242" stroke-width="0.75" stroke-linejoin="round"/>
<path d="M5.5,-5.4 L7.2,-5.4 A3.24,5.4 0 0 1 7.2,5.4 L5.5,5.4 A3.24,5.4 0 0 1 5.5,-5.4 Z" fill="#1a1a1a" stroke="#1a1a1a" stroke-width="0.7"/>
<path d="M7.2,-8.4 L9.5,-8.4 A5.04,8.4 0 0 1 9.5,8.4 L7.2,8.4 A5.04,8.4 0 0 1 7.2,-8.4 Z" fill="#fff" stroke="#424242" stroke-width="0.75" stroke-linejoin="round"/>
<ellipse cx="9.5" cy="0" rx="5.04" ry="8.4" fill="#fff" stroke="#424242" stroke-width="0.75" stroke-linejoin="round"/>
<path d="M9.5,-8.8 L11.3,-8.8 A5.28,8.8 0 0 1 11.3,8.8 L9.5,8.8 A5.28,8.8 0 0 1 9.5,-8.8 Z" fill="#bbb" stroke="#333" stroke-width="0.7"/>
<ellipse cx="11.3" cy="0" rx="5.28" ry="8.8" fill="#bbb" stroke="#333" stroke-width="0.7"/>
<path d="M11.3,-8.8 L13.1,-8.8 A5.28,8.8 0 0 1 13.1,8.8 L11.3,8.8 A5.28,8.8 0 0 1 11.3,-8.8 Z" fill="#fff" stroke="#424242" stroke-width="0.75" stroke-linejoin="round"/>
<ellipse cx="13.1" cy="0" rx="5.28" ry="8.8" fill="#fff" stroke="#424242" stroke-width="0.75" stroke-linejoin="round"/>
<path d="M13.1,-8.8 L14.9,-8.8 A5.28,8.8 0 0 1 14.9,8.8 L13.1,8.8 A5.28,8.8 0 0 1 13.1,-8.8 Z" fill="#bbb" stroke="#333" stroke-width="0.7"/>
<ellipse cx="14.9" cy="0" rx="5.28" ry="8.8" fill="#bbb" stroke="#333" stroke-width="0.7"/>
<path d="M14.9,-8.8 L17.5,-8.8 A5.28,8.8 0 0 1 17.5,8.8 L14.9,8.8 A5.28,8.8 0 0 1 14.9,-8.8 Z" fill="#fff" stroke="#424242" stroke-width="0.75" stroke-linejoin="round"/>
<ellipse cx="17.5" cy="0" rx="5.28" ry="8.8" fill="#fff" stroke="#424242" stroke-width="0.75" stroke-linejoin="round"/>
<path d="M17.5,-8.2 L22,-8.2 A4.919999999999999,8.2 0 0 1 22,8.2 L17.5,8.2 A4.919999999999999,8.2 0 0 1 17.5,-8.2 Z" fill="#fff" stroke="#424242" stroke-width="0.75" stroke-linejoin="round"/>
<ellipse cx="22" cy="0" rx="4.919999999999999" ry="8.2" fill="#fff" stroke="#424242" stroke-width="0.75" stroke-linejoin="round"/>
<path d="M22,-5.8 L25,-5.8 A3.48,5.8 0 0 1 25,5.8 L22,5.8 A3.48,5.8 0 0 1 22,-5.8 Z" fill="#fff" stroke="#424242" stroke-width="0.75" stroke-linejoin="round"/>
<ellipse cx="25" cy="0" rx="3.48" ry="5.8" fill="#fff" stroke="#424242" stroke-width="0.75" stroke-linejoin="round"/>
<path d="M25,-3.8 L27,-3.8 A2.28,3.8 0 0 1 27,3.8 L25,3.8 A2.28,3.8 0 0 1 25,-3.8 Z" fill="#fff" stroke="#424242" stroke-width="0.75" stroke-linejoin="round"/>
<ellipse cx="27" cy="0" rx="2.28" ry="3.8" fill="#fff" stroke="#424242" stroke-width="0.75" stroke-linejoin="round"/>
<path d="M27,-2.4 L33,-2.4 A1.44,2.4 0 0 1 33,2.4 L27,2.4 A1.44,2.4 0 0 1 27,-2.4 Z" fill="#7a7a7a" stroke="#222" stroke-width="0.7"/>
<ellipse cx="33" cy="0" rx="1.44" ry="2.4" fill="#7a7a7a" stroke="#222" stroke-width="0.7"/>
</g>
<path d="M192.6,251.1 L197.1,242.6" fill="none" stroke="#707070" stroke-width="0.6"/>
<path d="M192.6,251.1 L201.3,243.9" fill="none" stroke="#707070" stroke-width="0.6"/>
<path d="M201.7,255.7 L206.9,247.7" fill="none" stroke="#707070" stroke-width="0.6"/>
<g transform="translate(441.3 320.5) rotate(27)" >
<path d="M-31,-10.2 L0,-10.2 A6.324,10.2 0 0 1 0,10.2 L-31,10.2 A6.324,10.2 0 0 1 -31,-10.2 Z" fill="#fff" stroke="#424242" stroke-width="0.75" stroke-linejoin="round"/>
<ellipse cx="0" cy="0" rx="6.324" ry="10.2" fill="#fff" stroke="#424242" stroke-width="0.75" stroke-linejoin="round"/>
<ellipse cx="0" cy="0" rx="4.6" ry="7.4" fill="none" stroke="#424242" stroke-width="0.75" stroke-linejoin="round" stroke-linecap="round"/>
<ellipse cx="0.3" cy="0" rx="3.5" ry="5.6" fill="none" stroke="#424242" stroke-width="0.75" stroke-linejoin="round" stroke-linecap="round"/>
<path d="M-3,-10.2 A6.3,10.2 0 0 0 -3,10.2" fill="none" stroke="#626262" stroke-width="0.6"/>
</g>
<g transform="translate(419.5 353.9) rotate(26.5)" >
<path d="M-31.5,-17.2 L0,-17.2 A11.008,17.2 0 0 1 0,17.2 L-31.5,17.2 A11.008,17.2 0 0 1 -31.5,-17.2 Z" fill="#fff" stroke="#424242" stroke-width="0.75" stroke-linejoin="round"/>
<ellipse cx="0" cy="0" rx="11.008" ry="17.2" fill="#fff" stroke="#424242" stroke-width="0.75" stroke-linejoin="round"/>
<ellipse cx="0.6" cy="0" rx="9.4" ry="15.0" fill="none" stroke="#626262" stroke-width="0.6"/>
<ellipse cx="0.4" cy="0" rx="7.6" ry="12.4" fill="none" stroke="#626262" stroke-width="0.6"/>
<ellipse cx="0.3" cy="0" rx="2.8" ry="4.4" fill="#bbb" stroke="#333" stroke-width="0.7"/>
<ellipse cx="0.3" cy="0" rx="4.6" ry="7.4" fill="none" stroke="#626262" stroke-width="0.6"/>
<circle cx="6.50" cy="0.00" r="0.55" fill="#333"/>
<circle cx="5.07" cy="6.36" r="0.55" fill="#333"/>
<circle cx="1.46" cy="9.75" r="0.55" fill="#333"/>
<circle cx="-2.65" cy="8.57" r="0.55" fill="#333"/>
<circle cx="-5.33" cy="3.39" r="0.55" fill="#333"/>
<circle cx="-5.33" cy="-3.39" r="0.55" fill="#333"/>
<circle cx="-2.65" cy="-8.57" r="0.55" fill="#333"/>
<circle cx="1.46" cy="-9.75" r="0.55" fill="#333"/>
<circle cx="5.07" cy="-6.36" r="0.55" fill="#333"/>
</g>
<ellipse cx="505.0" cy="382.7" rx="35.9" ry="64.4" transform="rotate(30.4 505.0 382.7)" fill="#fff" stroke="#424242" stroke-width="0.75" stroke-linejoin="round"/>
<ellipse cx="510.6" cy="385.6" rx="37.0" ry="62.1" transform="rotate(28.8 510.6 385.6)" fill="#fff" stroke="#424242" stroke-width="0.75" stroke-linejoin="round"/>
<ellipse cx="511.6" cy="362.4" rx="7.6" ry="12.4" transform="rotate(29 511.6 362.4)" fill="#fff" stroke="#333" stroke-width="0.8"/>
<g transform="translate(511.6 362.4) rotate(29)" >
<path d="M3.42,-10.912 A6.992,11.78 0 0 1 -4.18,10.168" fill="none" stroke="#444" stroke-width="0.7" transform="translate(-1.2100000000000002,0.22000000000000003)"/>
<path d="M7.068,3.7199999999999998 A7.372,12.028 0 0 1 -2.28,11.532000000000002" fill="none" stroke="#333" stroke-width="1.0"/>
</g>
<ellipse cx="512.2" cy="407.6" rx="12.2" ry="19.0" transform="rotate(29 512.2 407.6)" fill="#fff" stroke="#333" stroke-width="0.8"/>
<g transform="translate(512.2 407.6) rotate(29)" >
<path d="M5.49,-16.72 A11.224,18.05 0 0 1 -6.71,15.579999999999998" fill="none" stroke="#444" stroke-width="0.7" transform="translate(-1.2100000000000002,0.22000000000000003)"/>
<path d="M11.346,5.7 A11.834,18.43 0 0 1 -3.6599999999999997,17.67" fill="none" stroke="#333" stroke-width="1.0"/>
</g>
<path d="M506.5,340.5 Q494,352.5 490.2,369.4" fill="none" stroke="#222" stroke-width="1.0" stroke-linecap="round"/>
<circle cx="509.8" cy="338.2" r="0.8" fill="#fff" stroke="#333" stroke-width="0.5"/>
<circle cx="489.8" cy="373.2" r="0.8" fill="#111"/>
<ellipse cx="262.0" cy="495.9" rx="43.0" ry="60.0" transform="rotate(22 262.0 495.9)" fill="#fff" stroke="#424242" stroke-width="0.75" stroke-linejoin="round"/>
<ellipse cx="270.4" cy="499.5" rx="37.1" ry="56.0" transform="rotate(25.8 270.4 499.5)" fill="#fff" stroke="#424242" stroke-width="0.75" stroke-linejoin="round"/>
<ellipse cx="270.8" cy="499.6" rx="35.9" ry="54.8" transform="rotate(25.8 270.8 499.6)" fill="none" stroke="#9a9a9a" stroke-width="1.5"/>
<ellipse cx="270.9" cy="499.7" rx="35.0" ry="53.8" transform="rotate(25.8 270.9 499.7)" fill="none" stroke="#626262" stroke-width="0.6"/>
<ellipse cx="270.9" cy="499.7" rx="27.0" ry="43.3" transform="rotate(25 270.9 499.7)" fill="#fff" stroke="#1a1a1a" stroke-width="1.1"/>
<g transform="translate(270.9 499.7) rotate(25)" >
<path d="M2.2,-41.6 A25.6,41.6 0 0 0 2.2,41.6" fill="none" stroke="#626262" stroke-width="0.6"/>
</g>
<circle cx="270" cy="456.4" r="1.1" fill="#fff" stroke="#333" stroke-width="0.6"/>
<circle cx="303.3" cy="467.4" r="1.1" fill="#fff" stroke="#333" stroke-width="0.6"/>
<circle cx="302.9" cy="495" r="1.1" fill="#fff" stroke="#333" stroke-width="0.6"/>
<circle cx="236.6" cy="505" r="1.1" fill="#fff" stroke="#333" stroke-width="0.6"/>
<circle cx="236.4" cy="532.2" r="1.1" fill="#fff" stroke="#333" stroke-width="0.6"/>
<circle cx="268.6" cy="543.6" r="1.1" fill="#fff" stroke="#333" stroke-width="0.6"/>
<path d="M298.6,494.6 L297.8,498.5 L296.7,502.5 L295.3,506.4 L293.7,510.3 L291.8,514.1 L289.6,517.7 L287.3,521.1 L284.8,524.2 L282.1,527.1 L279.3,529.7 L276.4,532.0 L273.5,533.9 L270.5,535.5 L267.5,536.6 L264.6,537.4 L261.7,537.7 L259.0,537.6 L256.4,537.1 L253.9,536.2 L251.6,534.9" fill="none" stroke="#626262" stroke-width="0.6"/>
<path d="M298.4,501.2 L297.3,504.7 L295.9,508.1 L294.4,511.5 L291.7,510.1 L293.0,507.1 L294.1,504.1 L295.1,501.1 Z" fill="#fff" stroke="#444" stroke-width="0.65" stroke-linejoin="round"/>
<path d="M290.5,518.5 L288.5,521.5 L286.3,524.3 L284.1,527.0 L282.5,523.8 L284.5,521.4 L286.4,519.0 L288.2,516.3 Z" fill="#fff" stroke="#444" stroke-width="0.65" stroke-linejoin="round"/>
<path d="M278.7,532.0 L276.2,533.9 L273.6,535.6 L271.0,537.0 L271.0,532.6 L273.3,531.3 L275.6,529.9 L277.8,528.2 Z" fill="#fff" stroke="#444" stroke-width="0.65" stroke-linejoin="round"/>
<path d="M265.3,539.0 L262.8,539.4 L260.3,539.5 L257.9,539.4 L259.5,534.7 L261.6,534.8 L263.7,534.7 L266.0,534.3 Z" fill="#fff" stroke="#444" stroke-width="0.65" stroke-linejoin="round"/>
<ellipse cx="195.9" cy="457.8" rx="34.3" ry="57.8" transform="rotate(31.1 195.9 457.8)" fill="none" stroke="#1c1c1c" stroke-width="2.8"/>
<ellipse cx="195.9" cy="457.8" rx="34.3" ry="57.8" transform="rotate(31.1 195.9 457.8)" fill="none" stroke="#8a8a8a" stroke-width="0.6"/>
<ellipse cx="393.5" cy="568.2" rx="43.6" ry="67.7" transform="rotate(28.2 393.5 568.2)" fill="#fff" stroke="#424242" stroke-width="0.75" stroke-linejoin="round"/>
<ellipse cx="405.6" cy="572.6" rx="37.9" ry="64.5" transform="rotate(32 405.6 572.6)" fill="#fff" stroke="#424242" stroke-width="0.75" stroke-linejoin="round"/>
<ellipse cx="406.6" cy="572.8" rx="36.2" ry="62.6" transform="rotate(32 406.6 572.8)" fill="none" stroke="#626262" stroke-width="0.6"/>
<ellipse cx="408.2" cy="550" rx="8.0" ry="12.6" transform="rotate(30 408.2 550)" fill="#fff" stroke="#333" stroke-width="0.8"/>
<g transform="translate(408.2 550) rotate(30)" >
<path d="M3.6,-11.088 A7.36,11.969999999999999 0 0 1 -4.4,10.331999999999999" fill="none" stroke="#444" stroke-width="0.7" transform="translate(-1.2100000000000002,0.22000000000000003)"/>
<path d="M7.44,3.78 A7.76,12.222 0 0 1 -2.4,11.718" fill="none" stroke="#333" stroke-width="1.0"/>
</g>
<ellipse cx="408.6" cy="596.2" rx="12.6" ry="19.6" transform="rotate(30 408.6 596.2)" fill="#fff" stroke="#333" stroke-width="0.8"/>
<g transform="translate(408.6 596.2) rotate(30)" >
<path d="M5.67,-17.248 A11.592,18.62 0 0 1 -6.930000000000001,16.072" fill="none" stroke="#444" stroke-width="0.7" transform="translate(-1.2100000000000002,0.22000000000000003)"/>
<path d="M11.718,5.88 A12.222,19.012 0 0 1 -3.78,18.228" fill="none" stroke="#333" stroke-width="1.0"/>
</g>
<path d="M405.4,528.4 Q391.8,540.5 387.6,556.3" fill="none" stroke="#222" stroke-width="1.0" stroke-linecap="round"/>
<circle cx="407.4" cy="525.8" r="0.8" fill="#fff" stroke="#333" stroke-width="0.5"/>
<circle cx="386.6" cy="560.9" r="0.8" fill="#111"/>
<g transform="translate(408.6 572.6) rotate(-30)" fill="none" stroke="#9a9a9a" stroke-width="0.7"><path d="M-4.8,-0.9 L4.8,-0.9 M-4.8,0.9 L4.8,0.9"/></g>
<g transform="translate(584.9 404.9) rotate(23)" >
<path d="M-26.5,-4.0 L-9.5,-4.0 A2.64,4.0 0 0 1 -9.5,4.0 L-26.5,4.0 A2.64,4.0 0 0 1 -26.5,-4.0 Z" fill="#fff" stroke="#424242" stroke-width="0.75" stroke-linejoin="round"/>
<path d="M-9.5,-4.9 L-7,-4.9 A3.2340000000000004,4.9 0 0 1 -7,4.9 L-9.5,4.9 A3.2340000000000004,4.9 0 0 1 -9.5,-4.9 Z" fill="#bbb" stroke="#333" stroke-width="0.7"/>
<path d="M-7,-4.4 L-4.5,-4.4 A2.9040000000000004,4.4 0 0 1 -4.5,4.4 L-7,4.4 A2.9040000000000004,4.4 0 0 1 -7,-4.4 Z" fill="#bbb" stroke="#333" stroke-width="0.7"/>
<path d="M-4.5,-5.0 L0,-5.0 A3.3000000000000003,5.0 0 0 1 0,5.0 L-4.5,5.0 A3.3000000000000003,5.0 0 0 1 -4.5,-5.0 Z" fill="#bbb" stroke="#333" stroke-width="0.7"/>
<ellipse cx="0" cy="0" rx="3.3000000000000003" ry="5.0" fill="#bbb" stroke="#333" stroke-width="0.7"/>
</g>
<ellipse cx="585.1" cy="405" rx="2.2" ry="3.3" transform="rotate(23 585.1 405)" fill="#fff" stroke="#333" stroke-width="0.6"/>
<g transform="translate(614.6 420.6) rotate(25.5)" >
<path d="M-28.1,-1.5 L-4.6,-1.5 A0.8999999999999999,1.5 0 0 1 -4.6,1.5 L-28.1,1.5 A0.8999999999999999,1.5 0 0 1 -28.1,-1.5 Z" fill="#bdbdbd" stroke="#2a2a2a" stroke-width="0.7"/>
<path d="M-26.9,-1.5 A0.75,1.5 0 0 1 -26.9,1.5" fill="none" stroke="#222" stroke-width="0.7"/>
<path d="M-25.3,-1.5 A0.75,1.5 0 0 1 -25.3,1.5" fill="none" stroke="#222" stroke-width="0.7"/>
<path d="M-23.7,-1.5 A0.75,1.5 0 0 1 -23.7,1.5" fill="none" stroke="#222" stroke-width="0.7"/>
<path d="M-22.1,-1.5 A0.75,1.5 0 0 1 -22.1,1.5" fill="none" stroke="#222" stroke-width="0.7"/>
<path d="M-20.5,-1.5 A0.75,1.5 0 0 1 -20.5,1.5" fill="none" stroke="#222" stroke-width="0.7"/>
<path d="M-18.9,-1.5 A0.75,1.5 0 0 1 -18.9,1.5" fill="none" stroke="#222" stroke-width="0.7"/>
<path d="M-17.3,-1.5 A0.75,1.5 0 0 1 -17.3,1.5" fill="none" stroke="#222" stroke-width="0.7"/>
<path d="M-15.7,-1.5 A0.75,1.5 0 0 1 -15.7,1.5" fill="none" stroke="#222" stroke-width="0.7"/>
<path d="M-14.1,-1.5 A0.75,1.5 0 0 1 -14.1,1.5" fill="none" stroke="#222" stroke-width="0.7"/>
<path d="M-12.5,-1.5 A0.75,1.5 0 0 1 -12.5,1.5" fill="none" stroke="#222" stroke-width="0.7"/>
<path d="M-10.9,-1.5 A0.75,1.5 0 0 1 -10.9,1.5" fill="none" stroke="#222" stroke-width="0.7"/>
<path d="M-9.3,-1.5 A0.75,1.5 0 0 1 -9.3,1.5" fill="none" stroke="#222" stroke-width="0.7"/>
<path d="M-7.7,-1.5 A0.75,1.5 0 0 1 -7.7,1.5" fill="none" stroke="#222" stroke-width="0.7"/>
<path d="M-6.1,-1.5 A0.75,1.5 0 0 1 -6.1,1.5" fill="none" stroke="#222" stroke-width="0.7"/>
<path d="M-4.6,-2.5 L0,-2.5 A1.5,2.5 0 0 1 0,2.5 L-4.6,2.5 A1.5,2.5 0 0 1 -4.6,-2.5 Z" fill="#f4f4f4" stroke="#222" stroke-width="0.8"/>
<ellipse cx="0" cy="0" rx="1.5" ry="2.5" fill="#f4f4f4" stroke="#222" stroke-width="0.8"/>
<ellipse cx="0" cy="0" rx="0.8999999999999999" ry="1.5" fill="#ddd" stroke="#333" stroke-width="0.6"/>
</g>
<ellipse cx="534.1" cy="439.4" rx="3.8" ry="5.0" transform="rotate(28 534.1 439.4)" fill="#fff" stroke="#222" stroke-width="2.6"/>
<g transform="translate(558.0 434.6) rotate(28)" >
<path d="M-21.5,-4.6 L-18.5,-4.6 A3.036,4.6 0 0 1 -18.5,4.6 L-21.5,4.6 A3.036,4.6 0 0 1 -21.5,-4.6 Z" fill="#666" stroke="#222" stroke-width="0.7"/>
<ellipse cx="-18.5" cy="0" rx="3.036" ry="4.6" fill="#666" stroke="#222" stroke-width="0.7"/>
<path d="M-18.5,-4.2 L-16,-4.2 A2.7720000000000002,4.2 0 0 1 -16,4.2 L-18.5,4.2 A2.7720000000000002,4.2 0 0 1 -18.5,-4.2 Z" fill="#fff" stroke="#424242" stroke-width="0.75" stroke-linejoin="round"/>
<ellipse cx="-16" cy="0" rx="2.7720000000000002" ry="4.2" fill="#fff" stroke="#424242" stroke-width="0.75" stroke-linejoin="round"/>
<path d="M-16,-3.2 L-10,-3.2 A2.112,3.2 0 0 1 -10,3.2 L-16,3.2 A2.112,3.2 0 0 1 -16,-3.2 Z" fill="#fff" stroke="#424242" stroke-width="0.75" stroke-linejoin="round"/>
<ellipse cx="-10" cy="0" rx="2.112" ry="3.2" fill="#fff" stroke="#424242" stroke-width="0.75" stroke-linejoin="round"/>
<path d="M-9,-5.0 L0,-5.0 A3.3000000000000003,5.0 0 0 1 0,5.0 L-9,5.0 A3.3000000000000003,5.0 0 0 1 -9,-5.0 Z" fill="#1a1a1a" stroke="#1a1a1a" stroke-width="0.7"/>
<ellipse cx="0" cy="0" rx="3.3000000000000003" ry="5.0" fill="#1a1a1a" stroke="#1a1a1a" stroke-width="0.7"/>
</g>
<ellipse cx="558.2" cy="434.7" rx="2.4" ry="3.6" transform="rotate(28 558.2 434.7)" fill="#222" stroke="#ddd" stroke-width="0.8"/>
<g transform="translate(580.0 445.6) rotate(27)" >
<path d="M-16,-1.5 L-4.6,-1.5 A0.8999999999999999,1.5 0 0 1 -4.6,1.5 L-16,1.5 A0.8999999999999999,1.5 0 0 1 -16,-1.5 Z" fill="#777" stroke="#222" stroke-width="0.6"/>
<path d="M-4.6,-2.4 L0,-2.4 A1.44,2.4 0 0 1 0,2.4 L-4.6,2.4 A1.44,2.4 0 0 1 -4.6,-2.4 Z" fill="#aaa" stroke="#222" stroke-width="0.7"/>
<ellipse cx="0" cy="0" rx="1.44" ry="2.4" fill="#aaa" stroke="#222" stroke-width="0.7"/>
</g>
<g transform="translate(641.9 438.2) rotate(23)" >
<path d="M-17,-10.6 L0,-10.6 A6.996,10.6 0 0 1 0,10.6 L-17,10.6 A6.996,10.6 0 0 1 -17,-10.6 Z" fill="#fff" stroke="#424242" stroke-width="0.75" stroke-linejoin="round"/>
<ellipse cx="0" cy="0" rx="6.996" ry="10.6" fill="#fff" stroke="#424242" stroke-width="0.75" stroke-linejoin="round"/>
</g>
<path d="M630.3,413.8 L630.3,427.4 A5.2,3.4 0 0 0 640.7,427.4 L640.7,413.8" fill="#fff" stroke="#424242" stroke-width="0.75" stroke-linejoin="round"/>
<ellipse cx="635.5" cy="413.8" rx="5.2" ry="3.5" fill="#fff" stroke="#424242" stroke-width="0.75" stroke-linejoin="round"/>
<rect x="623.2" y="444.8" width="3.8" height="5.4" rx="0.8" fill="#888" stroke="#222" stroke-width="0.6"/>
<path d="M623.2,446.4 L627,446.4 M623.2,448 L627,448" stroke="#222" stroke-width="0.5" fill="none"/>
<g transform="translate(649 490.2) rotate(29.5)" >
<path d="M-32.5,-22.6 L0,-22.6 A12.882,22.6 0 0 1 0,22.6 L-32.5,22.6 A12.882,22.6 0 0 1 -32.5,-22.6 Z" fill="#fff" stroke="#424242" stroke-width="0.75" stroke-linejoin="round"/>
<ellipse cx="0" cy="0" rx="12.882" ry="22.6" fill="#fff" stroke="#424242" stroke-width="0.75" stroke-linejoin="round"/>
<path d="M-31,-22.4 A12.9,22.6 0 0 0 -31,22.4" fill="none" stroke="#626262" stroke-width="0.6"/>
</g>
<ellipse cx="631.6" cy="459.9" rx="4.2" ry="3.5" fill="#fff" stroke="#424242" stroke-width="0.75" stroke-linejoin="round"/>
<ellipse cx="298.1" cy="262.5" rx="38.5" ry="62.8" transform="rotate(32.4 298.1 262.5)" fill="#111" stroke="#111" stroke-width="0.8"/>
<ellipse cx="300.1" cy="262.9" rx="36.2" ry="61.0" transform="rotate(32.4 300.1 262.9)" fill="#fff" stroke="#333" stroke-width="0.7"/>
<ellipse cx="300.7" cy="263.3" rx="33.0" ry="57.6" transform="rotate(32.4 300.7 263.3)" fill="none" stroke="#626262" stroke-width="0.6"/>
<path d="M278.6,302.1 L278.6,243.5 Q282.5,236.6 287.9,232.3 Q295,226.4 302.1,223 Q308,221 312.1,221.6 Q316,222.6 317.9,225.9 Q319.6,228.6 320,232.3 L320,277.2 Q317,284 313.6,289.3 Q309.6,295 305,299.3 Q300,304 295,306.4 Q290.4,308.4 286.4,307.9 Q282,306.4 278.6,302.1 Z" fill="#fff" stroke="#424242" stroke-width="0.75" stroke-linejoin="round"/>
<path d="M281.2,300.5 L281.2,245 Q285,238.5 290,234.4 Q296.5,229.2 303,226 Q308.4,224.2 312,224.6 Q315.4,225.6 316.8,228.4" fill="none" stroke="#626262" stroke-width="0.6"/>
<path d="M264.4,268 Q260,282 261.2,296 Q263.4,306 270,311.4 M332.6,236 Q337.4,246 336.8,256 Q336,262 333.4,266" fill="none" stroke="#626262" stroke-width="0.6"/>
<path d="M323.2,210.6 L323.2,288 M275.6,237.6 L275.6,319" fill="none" stroke="#444" stroke-width="2.4"/>
<path d="M323.2,210.6 L323.2,288 M275.6,237.6 L275.6,319" fill="none" stroke="#d0d0d0" stroke-width="1.0"/>
<path d="M326.4,232.3 L333.59999999999997,216.70000000000002" fill="none" stroke="#444" stroke-width="2.4"/>
<path d="M326.4,232.3 L333.59999999999997,216.70000000000002" fill="none" stroke="#d0d0d0" stroke-width="1.0"/>
<path d="M326.4,232.3 L339.0,227.3" fill="none" stroke="#444" stroke-width="2.4"/>
<path d="M326.4,232.3 L339.0,227.3" fill="none" stroke="#d0d0d0" stroke-width="1.0"/>
<ellipse cx="326.4" cy="232.3" rx="2.8" ry="3.8" transform="rotate(28 326.4 232.3)" fill="#ccc" stroke="#333" stroke-width="0.8"/>
<ellipse cx="326.7" cy="232.3" rx="1.3" ry="1.9" transform="rotate(28 326.7 232.3)" fill="#fff" stroke="#333" stroke-width="0.6"/>
<path d="M274.6,262 L266.20000000000005,252.4" fill="none" stroke="#444" stroke-width="2.4"/>
<path d="M274.6,262 L266.20000000000005,252.4" fill="none" stroke="#d0d0d0" stroke-width="1.0"/>
<path d="M274.6,262 L261.20000000000005,261" fill="none" stroke="#444" stroke-width="2.4"/>
<path d="M274.6,262 L261.20000000000005,261" fill="none" stroke="#d0d0d0" stroke-width="1.0"/>
<ellipse cx="274.6" cy="262" rx="2.8" ry="3.8" transform="rotate(28 274.6 262)" fill="#ccc" stroke="#333" stroke-width="0.8"/>
<ellipse cx="274.90000000000003" cy="262" rx="1.3" ry="1.9" transform="rotate(28 274.90000000000003 262)" fill="#fff" stroke="#333" stroke-width="0.6"/>
<path d="M326.8,267.2 L338.2,267.8" fill="none" stroke="#444" stroke-width="2.4"/>
<path d="M326.8,267.2 L338.2,267.8" fill="none" stroke="#d0d0d0" stroke-width="1.0"/>
<path d="M326.8,267.2 L333.8,277.8" fill="none" stroke="#444" stroke-width="2.4"/>
<path d="M326.8,267.2 L333.8,277.8" fill="none" stroke="#d0d0d0" stroke-width="1.0"/>
<ellipse cx="326.8" cy="267.2" rx="2.8" ry="3.8" transform="rotate(28 326.8 267.2)" fill="#ccc" stroke="#333" stroke-width="0.8"/>
<ellipse cx="327.1" cy="267.2" rx="1.3" ry="1.9" transform="rotate(28 327.1 267.2)" fill="#fff" stroke="#333" stroke-width="0.6"/>
<path d="M275.3,295.8 L263.7,311.8" fill="none" stroke="#444" stroke-width="2.4"/>
<path d="M275.3,295.8 L263.7,311.8" fill="none" stroke="#d0d0d0" stroke-width="1.0"/>
<path d="M275.3,295.8 L270.7,317.8" fill="none" stroke="#444" stroke-width="2.4"/>
<path d="M275.3,295.8 L270.7,317.8" fill="none" stroke="#d0d0d0" stroke-width="1.0"/>
<ellipse cx="275.3" cy="295.8" rx="2.8" ry="3.8" transform="rotate(28 275.3 295.8)" fill="#ccc" stroke="#333" stroke-width="0.8"/>
<ellipse cx="275.6" cy="295.8" rx="1.3" ry="1.9" transform="rotate(28 275.6 295.8)" fill="#fff" stroke="#333" stroke-width="0.6"/>
<g transform="translate(334.8 295.4) rotate(29)" >
<path d="M-34.8,-1.9 L-4.8,-1.9 A1.14,1.9 0 0 1 -4.8,1.9 L-34.8,1.9 A1.14,1.9 0 0 1 -34.8,-1.9 Z" fill="#dcdcdc" stroke="#3a3a3a" stroke-width="0.65"/>
<path d="M-33.3,-1.9 L-32.2,1.9" fill="none" stroke="#5a5a5a" stroke-width="0.55"/>
<path d="M-31.3,-1.9 L-30.2,1.9" fill="none" stroke="#5a5a5a" stroke-width="0.55"/>
<path d="M-29.3,-1.9 L-28.2,1.9" fill="none" stroke="#5a5a5a" stroke-width="0.55"/>
<path d="M-27.3,-1.9 L-26.2,1.9" fill="none" stroke="#5a5a5a" stroke-width="0.55"/>
<path d="M-25.3,-1.9 L-24.2,1.9" fill="none" stroke="#5a5a5a" stroke-width="0.55"/>
<path d="M-23.3,-1.9 L-22.2,1.9" fill="none" stroke="#5a5a5a" stroke-width="0.55"/>
<path d="M-21.3,-1.9 L-20.2,1.9" fill="none" stroke="#5a5a5a" stroke-width="0.55"/>
<path d="M-19.3,-1.9 L-18.2,1.9" fill="none" stroke="#5a5a5a" stroke-width="0.55"/>
<path d="M-17.3,-1.9 L-16.2,1.9" fill="none" stroke="#5a5a5a" stroke-width="0.55"/>
<path d="M-15.3,-1.9 L-14.2,1.9" fill="none" stroke="#5a5a5a" stroke-width="0.55"/>
<path d="M-13.3,-1.9 L-12.2,1.9" fill="none" stroke="#5a5a5a" stroke-width="0.55"/>
<path d="M-11.3,-1.9 L-10.2,1.9" fill="none" stroke="#5a5a5a" stroke-width="0.55"/>
<path d="M-5.8,-3.0 Q-2.9,-4.4 -0.3,-2.48 Q1.7,0 -0.3,2.48 Q-2.9,4.4 -5.8,3.0 Q-7.0,0 -5.8,-3.0 Z" fill="#fff" stroke="#2a2a2a" stroke-width="0.8"/>
<path d="M-4.6,-3.6 Q-3.1999999999999997,0 -4.6,3.6" fill="none" stroke="#626262" stroke-width="0.6"/>
</g>
<g transform="translate(263.9 130.4) rotate(-60.2690491135572)" >
<rect x="0" y="-2.2" width="51.015487844379194" height="4.4" fill="#c6c6c6" stroke="#5a5a5a" stroke-width="0.75" stroke-linejoin="round"/>
<g transform="translate(0 0) rotate(-4) scale(-1 1)"><path d="M3.63,-3.3 L6.6,-3.3 A6.6,6.6 0 1 0 6.6,3.3 L3.63,3.3 A3.432,3.432 0 0 1 3.63,-3.3 Z" fill="#c6c6c6" stroke="#5a5a5a" stroke-width="0.75" stroke-linejoin="round" transform="translate(-2.3099999999999996 0)"/></g>
<g transform="translate(51.015487844379194 0) rotate(8) scale(1 1)"><path d="M3.63,-3.3 L6.6,-3.3 A6.6,6.6 0 1 0 6.6,3.3 L3.63,3.3 A3.432,3.432 0 0 1 3.63,-3.3 Z" fill="#c6c6c6" stroke="#5a5a5a" stroke-width="0.75" stroke-linejoin="round" transform="translate(-2.3099999999999996 0)"/></g>
<rect x="5.28" y="-1.6" width="40.45548784437919" height="3.2" fill="#c6c6c6" stroke="none"/>
</g>
<g transform="translate(293.1 148.4) rotate(-60.26883238865352)" >
<rect x="0" y="-2.2" width="51.821713595750566" height="4.4" fill="#c6c6c6" stroke="#5a5a5a" stroke-width="0.75" stroke-linejoin="round"/>
<g transform="translate(0 0) rotate(-4) scale(-1 1)"><path d="M3.74,-3.4 L6.8,-3.4 A6.8,6.8 0 1 0 6.8,3.4 L3.74,3.4 A3.536,3.536 0 0 1 3.74,-3.4 Z" fill="#c6c6c6" stroke="#5a5a5a" stroke-width="0.75" stroke-linejoin="round" transform="translate(-2.38 0)"/></g>
<g transform="translate(51.821713595750566 0) rotate(8) scale(1 1)"><path d="M3.74,-3.4 L6.8,-3.4 A6.8,6.8 0 1 0 6.8,3.4 L3.74,3.4 A3.536,3.536 0 0 1 3.74,-3.4 Z" fill="#c6c6c6" stroke="#5a5a5a" stroke-width="0.75" stroke-linejoin="round" transform="translate(-2.38 0)"/></g>
<rect x="5.44" y="-1.6" width="40.941713595750564" height="3.2" fill="#c6c6c6" stroke="none"/>
</g>
<path d="M206,161.4 L218.8,167.6 L236.4,137.4" fill="none" stroke="#555" stroke-width="2.50" stroke-linejoin="round" stroke-linecap="butt"/>
<path d="M206,161.4 L218.8,167.6 L236.4,137.4" fill="none" stroke="#c4c4c4" stroke-width="1.50" stroke-linejoin="round" stroke-linecap="butt"/>
<path d="M608.8,408.8 L620,412.6 L640,381.4" fill="none" stroke="#555" stroke-width="2.50" stroke-linejoin="round" stroke-linecap="butt"/>
<path d="M608.8,408.8 L620,412.6 L640,381.4" fill="none" stroke="#c4c4c4" stroke-width="1.50" stroke-linejoin="round" stroke-linecap="butt"/>
<path d="M582,450.2 L592,453.8 L575.2,488.6" fill="none" stroke="#555" stroke-width="2.50" stroke-linejoin="round" stroke-linecap="butt"/>
<path d="M582,450.2 L592,453.8 L575.2,488.6" fill="none" stroke="#c4c4c4" stroke-width="1.50" stroke-linejoin="round" stroke-linecap="butt"/>
<path d="M99,452.6 L111,457.6 L92.6,492.4" fill="none" stroke="#555" stroke-width="2.50" stroke-linejoin="round" stroke-linecap="butt"/>
<path d="M99,452.6 L111,457.6 L92.6,492.4" fill="none" stroke="#c4c4c4" stroke-width="1.50" stroke-linejoin="round" stroke-linecap="butt"/>
<path d="M123.1,381 L133.9,387 Q136.4,394 134.6,401.6 Q133.6,410 130.9,417 Q127.6,422.6 122.3,427.3 Q116,435 108.6,441 Q102.6,445.4 96.6,447.9 L91.4,448.7 L86.3,441 Q90,441 93.1,440.1 Q100,438 106.9,434.1 Q112.4,429.6 117.1,423.9 Q121.4,419 124,413.6 Q126.6,405 126.6,396.4 Q126.4,389 124.9,382.7 Z" fill="#fff" stroke="#424242" stroke-width="0.75" stroke-linejoin="round"/>
<path d="M124.9,382.7 Q126.4,389 126.6,396.4 Q126.6,405 124,413.6 Q121.4,419 117.1,423.9 Q112.4,429.6 106.9,434.1 Q100,438 93.1,440.1 Q90,441 86.3,441 L83.7,436.7 Q88,436.6 91.4,435.9 Q97,433.6 101.7,430.7 Q107.4,426.6 112,422.1 Q116,417.4 118.9,411.9 Q122,404 122.3,396.4 Q122,390 120.6,385.3 Z" fill="#cfcfcf" stroke="#333" stroke-width="0.7" stroke-linejoin="round"/>
<path d="M96.6,360.3 L100.9,357.7 L113.7,363.7 L116.3,367.1 L115.4,375.7 L113.7,381.7 L116.3,389.4 L115.4,401.4 L114.6,411.7 L112,418.6 L103.4,420.3 L98.3,425.4 L89.7,430.6 L86.3,435.7 L77.7,434 L75.1,425.4 L76.9,420.3 L67.4,418.6 L65.7,406.6 L61.4,394.6 L58.9,384.3 L61.4,380.9 L77.7,376.6 L81.1,374 L94.9,371.4 Z" fill="#fff" stroke="#424242" stroke-width="0.75" stroke-linejoin="round"/>
<path d="M96.6,360.3 L109.4,366.4 L116.3,367.1 M109.4,366.4 L107.6,376 L94.9,371.4 M81.1,374 Q86,376 88.6,382 M77.7,376.6 Q75,381 77.4,388 M61.4,380.9 Q66,386 68,393 L70.5,418.4 M107.6,376 Q101,377.5 99,382.6 Q93,382 90,387.6 Q84.5,389 83,395 Q79.4,398 79.4,403 M76.9,420.3 Q80,414 86,412.6" fill="none" stroke="#626262" stroke-width="0.6"/>
<g transform="translate(106 383.4) rotate(28)" >
<path d="M1.65,-6.815 A4.949999999999999,7.050000000000001 0 0 0 0.66,7.050000000000001" fill="none" stroke="#626262" stroke-width="0.6"/>
</g>
<ellipse cx="106" cy="383.4" rx="3.3" ry="4.7" transform="rotate(28 106 383.4)" fill="#fff" stroke="#424242" stroke-width="0.75" stroke-linejoin="round"/>
<g transform="translate(106 383.4) rotate(28)" >
<path d="M-0.9899999999999999,-4.23 A2.9699999999999998,4.465 0 0 0 -0.9899999999999999,4.23" fill="none" stroke="#626262" stroke-width="0.6" transform="translate(0.9,0)"/>
</g>
<g transform="translate(94.9 389.4) rotate(28)" >
<path d="M1.55,-6.38 A4.65,6.6000000000000005 0 0 0 0.6200000000000001,6.6000000000000005" fill="none" stroke="#626262" stroke-width="0.6"/>
</g>
<ellipse cx="94.9" cy="389.4" rx="3.1" ry="4.4" transform="rotate(28 94.9 389.4)" fill="#fff" stroke="#424242" stroke-width="0.75" stroke-linejoin="round"/>
<g transform="translate(94.9 389.4) rotate(28)" >
<path d="M-0.9299999999999999,-3.9600000000000004 A2.79,4.18 0 0 0 -0.9299999999999999,3.9600000000000004" fill="none" stroke="#626262" stroke-width="0.6" transform="translate(0.9,0)"/>
</g>
<g transform="translate(106.9 395.4) rotate(28)" >
<path d="M1.65,-6.815 A4.949999999999999,7.050000000000001 0 0 0 0.66,7.050000000000001" fill="none" stroke="#626262" stroke-width="0.6"/>
</g>
<ellipse cx="106.9" cy="395.4" rx="3.3" ry="4.7" transform="rotate(28 106.9 395.4)" fill="#fff" stroke="#424242" stroke-width="0.75" stroke-linejoin="round"/>
<g transform="translate(106.9 395.4) rotate(28)" >
<path d="M-0.9899999999999999,-4.23 A2.9699999999999998,4.465 0 0 0 -0.9899999999999999,4.23" fill="none" stroke="#626262" stroke-width="0.6" transform="translate(0.9,0)"/>
</g>
<g transform="translate(82.9 397.1) rotate(28)" >
<path d="M1.5,-6.09 A4.5,6.300000000000001 0 0 0 0.6000000000000001,6.300000000000001" fill="none" stroke="#626262" stroke-width="0.6"/>
</g>
<ellipse cx="82.9" cy="397.1" rx="3.0" ry="4.2" transform="rotate(28 82.9 397.1)" fill="#fff" stroke="#424242" stroke-width="0.75" stroke-linejoin="round"/>
<g transform="translate(82.9 397.1) rotate(28)" >
<path d="M-0.8999999999999999,-3.7800000000000002 A2.7,3.9899999999999998 0 0 0 -0.8999999999999999,3.7800000000000002" fill="none" stroke="#626262" stroke-width="0.6" transform="translate(0.9,0)"/>
</g>
<g transform="translate(106 410) rotate(28)" >
<path d="M1.7,-6.96 A5.1,7.199999999999999 0 0 0 0.68,7.199999999999999" fill="none" stroke="#626262" stroke-width="0.6"/>
</g>
<ellipse cx="106" cy="410" rx="3.4" ry="4.8" transform="rotate(28 106 410)" fill="#fff" stroke="#424242" stroke-width="0.75" stroke-linejoin="round"/>
<g transform="translate(106 410) rotate(28)" >
<path d="M-1.02,-4.32 A3.06,4.56 0 0 0 -1.02,4.32" fill="none" stroke="#626262" stroke-width="0.6" transform="translate(0.9,0)"/>
</g>
<g transform="translate(82.9 423.7) rotate(28)" >
<path d="M1.8,-7.25 A5.4,7.5 0 0 0 0.7200000000000001,7.5" fill="none" stroke="#626262" stroke-width="0.6"/>
</g>
<ellipse cx="82.9" cy="423.7" rx="3.6" ry="5.0" transform="rotate(28 82.9 423.7)" fill="#fff" stroke="#424242" stroke-width="0.75" stroke-linejoin="round"/>
<g transform="translate(82.9 423.7) rotate(28)" >
<path d="M-1.08,-4.5 A3.24,4.75 0 0 0 -1.08,4.5" fill="none" stroke="#626262" stroke-width="0.6" transform="translate(0.9,0)"/>
</g>
<path d="M58,420.4 L63.1,419.6 Q65,423.6 67.4,427.3 Q72,435 76.9,441 L74.3,443.6 Q67.6,439.4 62.3,434.1 Q59.4,428 58,420.4 Z" fill="#fff" stroke="#424242" stroke-width="0.75" stroke-linejoin="round"/>
<path d="M74.3,443.6 Q82,447.6 91.4,448.7" fill="none" stroke="#424242" stroke-width="0.75" stroke-linejoin="round" stroke-linecap="round"/>
<g transform="translate(98 404.4) rotate(27)" >
<path d="M-24.4,-1.6 L-4.4,-1.6 A0.96,1.6 0 0 1 -4.4,1.6 L-24.4,1.6 A0.96,1.6 0 0 1 -24.4,-1.6 Z" fill="#bdbdbd" stroke="#2a2a2a" stroke-width="0.7"/>
<path d="M-23.2,-1.6 A0.8,1.6 0 0 1 -23.2,1.6" fill="none" stroke="#222" stroke-width="0.7"/>
<path d="M-21.6,-1.6 A0.8,1.6 0 0 1 -21.6,1.6" fill="none" stroke="#222" stroke-width="0.7"/>
<path d="M-20.0,-1.6 A0.8,1.6 0 0 1 -20.0,1.6" fill="none" stroke="#222" stroke-width="0.7"/>
<path d="M-18.4,-1.6 A0.8,1.6 0 0 1 -18.4,1.6" fill="none" stroke="#222" stroke-width="0.7"/>
<path d="M-16.8,-1.6 A0.8,1.6 0 0 1 -16.8,1.6" fill="none" stroke="#222" stroke-width="0.7"/>
<path d="M-15.2,-1.6 A0.8,1.6 0 0 1 -15.2,1.6" fill="none" stroke="#222" stroke-width="0.7"/>
<path d="M-13.6,-1.6 A0.8,1.6 0 0 1 -13.6,1.6" fill="none" stroke="#222" stroke-width="0.7"/>
<path d="M-12.0,-1.6 A0.8,1.6 0 0 1 -12.0,1.6" fill="none" stroke="#222" stroke-width="0.7"/>
<path d="M-10.4,-1.6 A0.8,1.6 0 0 1 -10.4,1.6" fill="none" stroke="#222" stroke-width="0.7"/>
<path d="M-8.8,-1.6 A0.8,1.6 0 0 1 -8.8,1.6" fill="none" stroke="#222" stroke-width="0.7"/>
<path d="M-7.2,-1.6 A0.8,1.6 0 0 1 -7.2,1.6" fill="none" stroke="#222" stroke-width="0.7"/>
<path d="M-5.6,-1.6 A0.8,1.6 0 0 1 -5.6,1.6" fill="none" stroke="#222" stroke-width="0.7"/>
<path d="M-4.4,-2.5 L0,-2.5 A1.5,2.5 0 0 1 0,2.5 L-4.4,2.5 A1.5,2.5 0 0 1 -4.4,-2.5 Z" fill="#f4f4f4" stroke="#222" stroke-width="0.8"/>
<ellipse cx="0" cy="0" rx="1.5" ry="2.5" fill="#f4f4f4" stroke="#222" stroke-width="0.8"/>
<ellipse cx="0" cy="0" rx="0.8999999999999999" ry="1.5" fill="#ddd" stroke="#333" stroke-width="0.6"/>
</g>
<path d="M95.6,401.6 L99.6,407.6 M99.6,401.8 L95.4,407.4 M94.4,404.6 L100.8,404.4" fill="none" stroke="#333" stroke-width="0.7"/>
<g transform="translate(149 385.2) rotate(27)" >
<path d="M-37,-1.6 L-4,-1.6 A0.96,1.6 0 0 1 -4,1.6 L-37,1.6 A0.96,1.6 0 0 1 -37,-1.6 Z" fill="#dcdcdc" stroke="#3a3a3a" stroke-width="0.65"/>
<path d="M-35.5,-1.6 L-34.4,1.6" fill="none" stroke="#5a5a5a" stroke-width="0.55"/>
<path d="M-33.5,-1.6 L-32.4,1.6" fill="none" stroke="#5a5a5a" stroke-width="0.55"/>
<path d="M-31.5,-1.6 L-30.4,1.6" fill="none" stroke="#5a5a5a" stroke-width="0.55"/>
<path d="M-29.5,-1.6 L-28.4,1.6" fill="none" stroke="#5a5a5a" stroke-width="0.55"/>
<path d="M-27.5,-1.6 L-26.4,1.6" fill="none" stroke="#5a5a5a" stroke-width="0.55"/>
<path d="M-25.5,-1.6 L-24.4,1.6" fill="none" stroke="#5a5a5a" stroke-width="0.55"/>
<path d="M-23.5,-1.6 L-22.4,1.6" fill="none" stroke="#5a5a5a" stroke-width="0.55"/>
<path d="M-21.5,-1.6 L-20.4,1.6" fill="none" stroke="#5a5a5a" stroke-width="0.55"/>
<path d="M-19.5,-1.6 L-18.4,1.6" fill="none" stroke="#5a5a5a" stroke-width="0.55"/>
<path d="M-17.5,-1.6 L-16.4,1.6" fill="none" stroke="#5a5a5a" stroke-width="0.55"/>
<path d="M-15.5,-1.6 L-14.4,1.6" fill="none" stroke="#5a5a5a" stroke-width="0.55"/>
<path d="M-13.5,-1.6 L-12.4,1.6" fill="none" stroke="#5a5a5a" stroke-width="0.55"/>
<path d="M-11.5,-1.6 L-10.4,1.6" fill="none" stroke="#5a5a5a" stroke-width="0.55"/>
<path d="M-9.5,-1.6 L-8.4,1.6" fill="none" stroke="#5a5a5a" stroke-width="0.55"/>
<path d="M-5,-2.4000000000000004 Q-2.5,-3.5200000000000005 -0.3,-1.984 Q1.7,0 -0.3,1.984 Q-2.5,3.5200000000000005 -5,2.4000000000000004 Q-6.2,0 -5,-2.4000000000000004 Z" fill="#fff" stroke="#2a2a2a" stroke-width="0.8"/>
<path d="M-3.8,-2.8800000000000003 Q-2.4,0 -3.8,2.8800000000000003" fill="none" stroke="#626262" stroke-width="0.6"/>
</g>
<g transform="translate(138.4 380.2) rotate(27)" >
<path d="M-11,-1.8 L-5,-1.8 A1.08,1.8 0 0 1 -5,1.8 L-11,1.8 A1.08,1.8 0 0 1 -11,-1.8 Z" fill="#bdbdbd" stroke="#2a2a2a" stroke-width="0.7"/>
<path d="M-9.8,-1.8 A0.9,1.8 0 0 1 -9.8,1.8" fill="none" stroke="#222" stroke-width="0.7"/>
<path d="M-8.2,-1.8 A0.9,1.8 0 0 1 -8.2,1.8" fill="none" stroke="#222" stroke-width="0.7"/>
<path d="M-6.6,-1.8 A0.9,1.8 0 0 1 -6.6,1.8" fill="none" stroke="#222" stroke-width="0.7"/>
<path d="M-5,-2.7 L0,-2.7 A1.62,2.7 0 0 1 0,2.7 L-5,2.7 A1.62,2.7 0 0 1 -5,-2.7 Z" fill="#f4f4f4" stroke="#222" stroke-width="0.8"/>
<ellipse cx="0" cy="0" rx="1.62" ry="2.7" fill="#f4f4f4" stroke="#222" stroke-width="0.8"/>
<ellipse cx="0" cy="0" rx="0.972" ry="1.62" fill="#ddd" stroke="#333" stroke-width="0.6"/>
</g>
<g transform="translate(149 419.6) rotate(27)" >
<path d="M-39,-1.6 L-4,-1.6 A0.96,1.6 0 0 1 -4,1.6 L-39,1.6 A0.96,1.6 0 0 1 -39,-1.6 Z" fill="#dcdcdc" stroke="#3a3a3a" stroke-width="0.65"/>
<path d="M-37.5,-1.6 L-36.4,1.6" fill="none" stroke="#5a5a5a" stroke-width="0.55"/>
<path d="M-35.5,-1.6 L-34.4,1.6" fill="none" stroke="#5a5a5a" stroke-width="0.55"/>
<path d="M-33.5,-1.6 L-32.4,1.6" fill="none" stroke="#5a5a5a" stroke-width="0.55"/>
<path d="M-31.5,-1.6 L-30.4,1.6" fill="none" stroke="#5a5a5a" stroke-width="0.55"/>
<path d="M-29.5,-1.6 L-28.4,1.6" fill="none" stroke="#5a5a5a" stroke-width="0.55"/>
<path d="M-27.5,-1.6 L-26.4,1.6" fill="none" stroke="#5a5a5a" stroke-width="0.55"/>
<path d="M-25.5,-1.6 L-24.4,1.6" fill="none" stroke="#5a5a5a" stroke-width="0.55"/>
<path d="M-23.5,-1.6 L-22.4,1.6" fill="none" stroke="#5a5a5a" stroke-width="0.55"/>
<path d="M-21.5,-1.6 L-20.4,1.6" fill="none" stroke="#5a5a5a" stroke-width="0.55"/>
<path d="M-19.5,-1.6 L-18.4,1.6" fill="none" stroke="#5a5a5a" stroke-width="0.55"/>
<path d="M-17.5,-1.6 L-16.4,1.6" fill="none" stroke="#5a5a5a" stroke-width="0.55"/>
<path d="M-15.5,-1.6 L-14.4,1.6" fill="none" stroke="#5a5a5a" stroke-width="0.55"/>
<path d="M-13.5,-1.6 L-12.4,1.6" fill="none" stroke="#5a5a5a" stroke-width="0.55"/>
<path d="M-11.5,-1.6 L-10.4,1.6" fill="none" stroke="#5a5a5a" stroke-width="0.55"/>
<path d="M-9.5,-1.6 L-8.4,1.6" fill="none" stroke="#5a5a5a" stroke-width="0.55"/>
<path d="M-5,-2.4000000000000004 Q-2.5,-3.5200000000000005 -0.3,-1.984 Q1.7,0 -0.3,1.984 Q-2.5,3.5200000000000005 -5,2.4000000000000004 Q-6.2,0 -5,-2.4000000000000004 Z" fill="#fff" stroke="#2a2a2a" stroke-width="0.8"/>
<path d="M-3.8,-2.8800000000000003 Q-2.4,0 -3.8,2.8800000000000003" fill="none" stroke="#626262" stroke-width="0.6"/>
</g>
<g transform="translate(98 415.6) rotate(28.5)" >
<path d="M-52,-1.6 L-3,-1.6 A0.96,1.6 0 0 1 -3,1.6 L-52,1.6 A0.96,1.6 0 0 1 -52,-1.6 Z" fill="#dcdcdc" stroke="#3a3a3a" stroke-width="0.65"/>
<path d="M-50.5,-1.6 L-49.4,1.6" fill="none" stroke="#5a5a5a" stroke-width="0.55"/>
<path d="M-48.5,-1.6 L-47.4,1.6" fill="none" stroke="#5a5a5a" stroke-width="0.55"/>
<path d="M-46.5,-1.6 L-45.4,1.6" fill="none" stroke="#5a5a5a" stroke-width="0.55"/>
<path d="M-44.5,-1.6 L-43.4,1.6" fill="none" stroke="#5a5a5a" stroke-width="0.55"/>
<path d="M-42.5,-1.6 L-41.4,1.6" fill="none" stroke="#5a5a5a" stroke-width="0.55"/>
<path d="M-40.5,-1.6 L-39.4,1.6" fill="none" stroke="#5a5a5a" stroke-width="0.55"/>
<path d="M-38.5,-1.6 L-37.4,1.6" fill="none" stroke="#5a5a5a" stroke-width="0.55"/>
<path d="M-36.5,-1.6 L-35.4,1.6" fill="none" stroke="#5a5a5a" stroke-width="0.55"/>
<path d="M-34.5,-1.6 L-33.4,1.6" fill="none" stroke="#5a5a5a" stroke-width="0.55"/>
<path d="M-32.5,-1.6 L-31.4,1.6" fill="none" stroke="#5a5a5a" stroke-width="0.55"/>
<path d="M-30.5,-1.6 L-29.4,1.6" fill="none" stroke="#5a5a5a" stroke-width="0.55"/>
<path d="M-28.5,-1.6 L-27.4,1.6" fill="none" stroke="#5a5a5a" stroke-width="0.55"/>
<path d="M-26.5,-1.6 L-25.4,1.6" fill="none" stroke="#5a5a5a" stroke-width="0.55"/>
<path d="M-24.5,-1.6 L-23.4,1.6" fill="none" stroke="#5a5a5a" stroke-width="0.55"/>
<path d="M-22.5,-1.6 L-21.4,1.6" fill="none" stroke="#5a5a5a" stroke-width="0.55"/>
<path d="M-20.5,-1.6 L-19.4,1.6" fill="none" stroke="#5a5a5a" stroke-width="0.55"/>
<path d="M-18.5,-1.6 L-17.4,1.6" fill="none" stroke="#5a5a5a" stroke-width="0.55"/>
<path d="M-16.5,-1.6 L-15.4,1.6" fill="none" stroke="#5a5a5a" stroke-width="0.55"/>
<path d="M-14.5,-1.6 L-13.4,1.6" fill="none" stroke="#5a5a5a" stroke-width="0.55"/>
<path d="M-12.5,-1.6 L-11.4,1.6" fill="none" stroke="#5a5a5a" stroke-width="0.55"/>
<path d="M-10.5,-1.6 L-9.4,1.6" fill="none" stroke="#5a5a5a" stroke-width="0.55"/>
<path d="M-8.5,-1.6 L-7.4,1.6" fill="none" stroke="#5a5a5a" stroke-width="0.55"/>
<path d="M-4,-2.25 Q-2.0,-3.3000000000000003 -0.3,-1.8599999999999999 Q1.7,0 -0.3,1.8599999999999999 Q-2.0,3.3000000000000003 -4,2.25 Q-5.2,0 -4,-2.25 Z" fill="#fff" stroke="#2a2a2a" stroke-width="0.8"/>
<path d="M-2.8,-2.7 Q-1.4,0 -2.8,2.7" fill="none" stroke="#626262" stroke-width="0.6"/>
</g>
<g transform="translate(97.6 450.2) rotate(28)" >
<path d="M-52,-1.6 L-3,-1.6 A0.96,1.6 0 0 1 -3,1.6 L-52,1.6 A0.96,1.6 0 0 1 -52,-1.6 Z" fill="#dcdcdc" stroke="#3a3a3a" stroke-width="0.65"/>
<path d="M-50.5,-1.6 L-49.4,1.6" fill="none" stroke="#5a5a5a" stroke-width="0.55"/>
<path d="M-48.5,-1.6 L-47.4,1.6" fill="none" stroke="#5a5a5a" stroke-width="0.55"/>
<path d="M-46.5,-1.6 L-45.4,1.6" fill="none" stroke="#5a5a5a" stroke-width="0.55"/>
<path d="M-44.5,-1.6 L-43.4,1.6" fill="none" stroke="#5a5a5a" stroke-width="0.55"/>
<path d="M-42.5,-1.6 L-41.4,1.6" fill="none" stroke="#5a5a5a" stroke-width="0.55"/>
<path d="M-40.5,-1.6 L-39.4,1.6" fill="none" stroke="#5a5a5a" stroke-width="0.55"/>
<path d="M-38.5,-1.6 L-37.4,1.6" fill="none" stroke="#5a5a5a" stroke-width="0.55"/>
<path d="M-36.5,-1.6 L-35.4,1.6" fill="none" stroke="#5a5a5a" stroke-width="0.55"/>
<path d="M-34.5,-1.6 L-33.4,1.6" fill="none" stroke="#5a5a5a" stroke-width="0.55"/>
<path d="M-32.5,-1.6 L-31.4,1.6" fill="none" stroke="#5a5a5a" stroke-width="0.55"/>
<path d="M-30.5,-1.6 L-29.4,1.6" fill="none" stroke="#5a5a5a" stroke-width="0.55"/>
<path d="M-28.5,-1.6 L-27.4,1.6" fill="none" stroke="#5a5a5a" stroke-width="0.55"/>
<path d="M-26.5,-1.6 L-25.4,1.6" fill="none" stroke="#5a5a5a" stroke-width="0.55"/>
<path d="M-24.5,-1.6 L-23.4,1.6" fill="none" stroke="#5a5a5a" stroke-width="0.55"/>
<path d="M-22.5,-1.6 L-21.4,1.6" fill="none" stroke="#5a5a5a" stroke-width="0.55"/>
<path d="M-20.5,-1.6 L-19.4,1.6" fill="none" stroke="#5a5a5a" stroke-width="0.55"/>
<path d="M-18.5,-1.6 L-17.4,1.6" fill="none" stroke="#5a5a5a" stroke-width="0.55"/>
<path d="M-16.5,-1.6 L-15.4,1.6" fill="none" stroke="#5a5a5a" stroke-width="0.55"/>
<path d="M-14.5,-1.6 L-13.4,1.6" fill="none" stroke="#5a5a5a" stroke-width="0.55"/>
<path d="M-12.5,-1.6 L-11.4,1.6" fill="none" stroke="#5a5a5a" stroke-width="0.55"/>
<path d="M-10.5,-1.6 L-9.4,1.6" fill="none" stroke="#5a5a5a" stroke-width="0.55"/>
<path d="M-8.5,-1.6 L-7.4,1.6" fill="none" stroke="#5a5a5a" stroke-width="0.55"/>
<path d="M-4,-2.25 Q-2.0,-3.3000000000000003 -0.3,-1.8599999999999999 Q1.7,0 -0.3,1.8599999999999999 Q-2.0,3.3000000000000003 -4,2.25 Q-5.2,0 -4,-2.25 Z" fill="#fff" stroke="#2a2a2a" stroke-width="0.8"/>
<path d="M-2.8,-2.7 Q-1.4,0 -2.8,2.7" fill="none" stroke="#626262" stroke-width="0.6"/>
</g>
<g transform="translate(138.6 426.4) rotate(25)" >
<path d="M-23.6,-1.6 L-4.6,-1.6 A0.96,1.6 0 0 1 -4.6,1.6 L-23.6,1.6 A0.96,1.6 0 0 1 -23.6,-1.6 Z" fill="#bdbdbd" stroke="#2a2a2a" stroke-width="0.7"/>
<path d="M-22.4,-1.6 A0.8,1.6 0 0 1 -22.4,1.6" fill="none" stroke="#222" stroke-width="0.7"/>
<path d="M-20.8,-1.6 A0.8,1.6 0 0 1 -20.8,1.6" fill="none" stroke="#222" stroke-width="0.7"/>
<path d="M-19.2,-1.6 A0.8,1.6 0 0 1 -19.2,1.6" fill="none" stroke="#222" stroke-width="0.7"/>
<path d="M-17.6,-1.6 A0.8,1.6 0 0 1 -17.6,1.6" fill="none" stroke="#222" stroke-width="0.7"/>
<path d="M-16.0,-1.6 A0.8,1.6 0 0 1 -16.0,1.6" fill="none" stroke="#222" stroke-width="0.7"/>
<path d="M-14.4,-1.6 A0.8,1.6 0 0 1 -14.4,1.6" fill="none" stroke="#222" stroke-width="0.7"/>
<path d="M-12.8,-1.6 A0.8,1.6 0 0 1 -12.8,1.6" fill="none" stroke="#222" stroke-width="0.7"/>
<path d="M-11.2,-1.6 A0.8,1.6 0 0 1 -11.2,1.6" fill="none" stroke="#222" stroke-width="0.7"/>
<path d="M-9.6,-1.6 A0.8,1.6 0 0 1 -9.6,1.6" fill="none" stroke="#222" stroke-width="0.7"/>
<path d="M-8.0,-1.6 A0.8,1.6 0 0 1 -8.0,1.6" fill="none" stroke="#222" stroke-width="0.7"/>
<path d="M-6.4,-1.6 A0.8,1.6 0 0 1 -6.4,1.6" fill="none" stroke="#222" stroke-width="0.7"/>
<path d="M-4.6,-2.6 L0,-2.6 A1.56,2.6 0 0 1 0,2.6 L-4.6,2.6 A1.56,2.6 0 0 1 -4.6,-2.6 Z" fill="#f4f4f4" stroke="#222" stroke-width="0.8"/>
<ellipse cx="0" cy="0" rx="1.56" ry="2.6" fill="#f4f4f4" stroke="#222" stroke-width="0.8"/>
<ellipse cx="0" cy="0" rx="0.9359999999999999" ry="1.56" fill="#ddd" stroke="#333" stroke-width="0.6"/>
</g>
</svg>
</body></html>
